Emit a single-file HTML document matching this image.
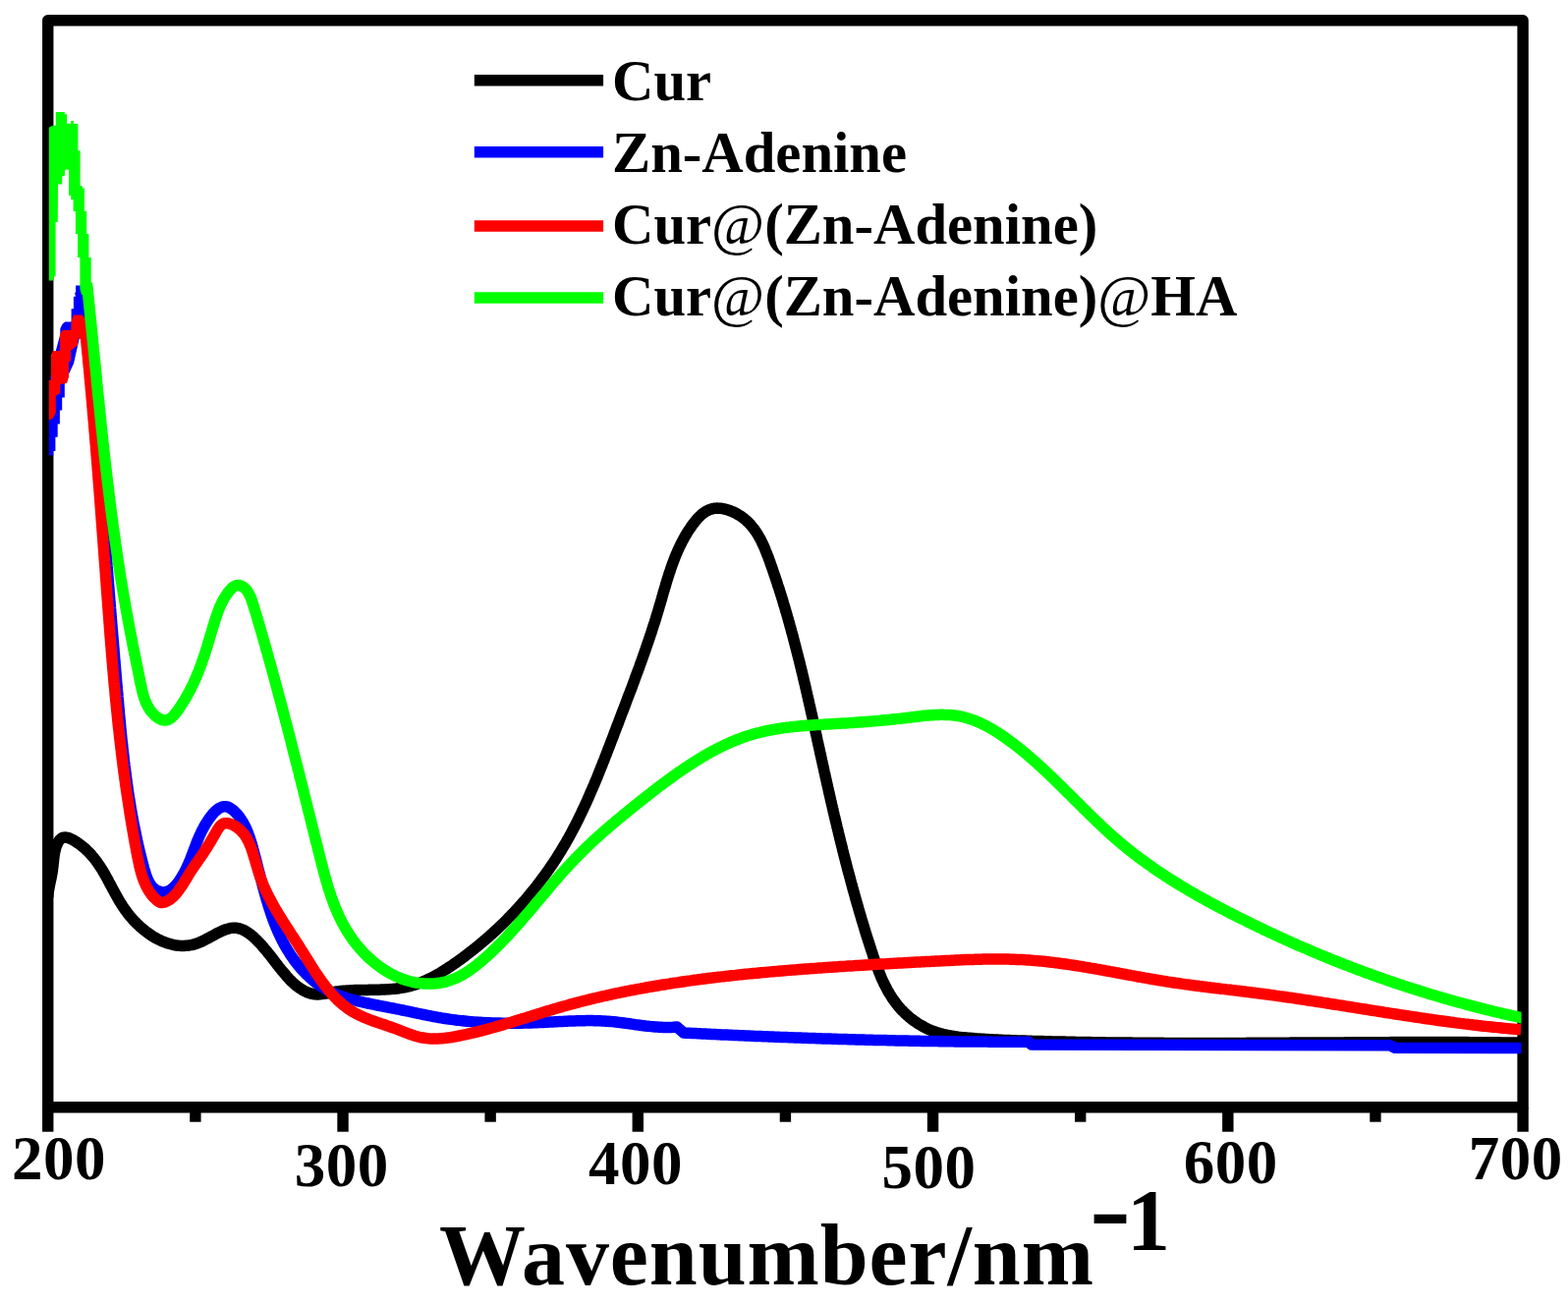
<!DOCTYPE html>
<html><head><meta charset="utf-8"><title>UV-Vis spectra</title>
<style>html,body{margin:0;padding:0;background:#fff;}body{width:1596px;height:1329px;overflow:hidden;}svg{display:block;}</style>
</head><body>
<svg width="1596" height="1329" viewBox="0 0 1596 1329">
<rect x="0" y="0" width="1596" height="1329" fill="#fff"/>
<rect x="48.75" y="20.75" width="1501.35" height="1106.05" fill="none" stroke="#000" stroke-width="11.4" stroke-linejoin="round"/>
<line x1="48.75" y1="1126.80" x2="48.75" y2="1151.7" stroke="#000" stroke-width="11.4"/>
<line x1="198.88" y1="1126.80" x2="198.88" y2="1141.7" stroke="#000" stroke-width="11.4"/>
<line x1="349.02" y1="1126.80" x2="349.02" y2="1151.7" stroke="#000" stroke-width="11.4"/>
<line x1="499.15" y1="1126.80" x2="499.15" y2="1141.7" stroke="#000" stroke-width="11.4"/>
<line x1="649.29" y1="1126.80" x2="649.29" y2="1151.7" stroke="#000" stroke-width="11.4"/>
<line x1="799.42" y1="1126.80" x2="799.42" y2="1141.7" stroke="#000" stroke-width="11.4"/>
<line x1="949.56" y1="1126.80" x2="949.56" y2="1151.7" stroke="#000" stroke-width="11.4"/>
<line x1="1099.69" y1="1126.80" x2="1099.69" y2="1141.7" stroke="#000" stroke-width="11.4"/>
<line x1="1249.83" y1="1126.80" x2="1249.83" y2="1151.7" stroke="#000" stroke-width="11.4"/>
<line x1="1399.96" y1="1126.80" x2="1399.96" y2="1141.7" stroke="#000" stroke-width="11.4"/>
<line x1="1550.10" y1="1126.80" x2="1550.10" y2="1151.7" stroke="#000" stroke-width="11.4"/>
<defs><clipPath id="pc"><rect x="49.8" y="0" width="1498.7" height="1329"/></clipPath></defs>
<g clip-path="url(#pc)">
<path d="M48.7,913.0 L48.9,910.8 L49.1,908.8 L49.4,906.7 L49.7,904.8 L50.1,902.8 L50.4,901.0 L50.8,899.1 L51.2,897.2 L51.6,895.4 L52.0,893.5 L52.4,891.6 L52.7,889.7 L53.1,887.8 L53.4,885.8 L53.6,883.8 L53.9,881.7 L54.1,879.6 L54.3,877.4 L54.6,875.3 L54.8,873.1 L55.1,871.0 L55.4,868.8 L55.8,866.7 L56.3,864.7 L56.8,862.7 L57.5,860.7 L58.2,858.9 L59.1,857.1 L60.0,855.6 L61.1,854.3 L62.3,853.3 L63.7,852.5 L65.2,852.2 L66.8,852.1 L68.5,852.4 L70.3,852.9 L72.2,853.7 L74.1,854.6 L76.0,855.7 L77.8,856.9 L79.6,858.1 L81.4,859.4 L83.1,860.7 L84.7,862.0 L86.3,863.3 L87.8,864.7 L89.2,866.1 L90.7,867.5 L92.0,869.0 L93.4,870.5 L94.6,872.0 L95.9,873.5 L97.1,875.0 L98.3,876.6 L99.4,878.2 L100.5,879.8 L101.6,881.4 L102.6,883.0 L103.7,884.7 L104.7,886.4 L105.7,888.0 L106.7,889.7 L107.6,891.4 L108.6,893.1 L109.5,894.8 L110.4,896.5 L111.3,898.3 L112.3,900.0 L113.2,901.7 L114.1,903.5 L115.0,905.2 L116.0,906.9 L116.9,908.7 L117.9,910.4 L118.8,912.1 L119.8,913.8 L120.8,915.6 L121.8,917.3 L122.9,919.0 L123.9,920.7 L125.0,922.4 L126.1,924.0 L127.3,925.7 L128.5,927.3 L129.7,929.0 L130.9,930.6 L132.2,932.2 L133.6,933.8 L134.9,935.3 L136.3,936.9 L137.8,938.4 L139.3,939.9 L140.8,941.3 L142.3,942.8 L143.9,944.1 L145.5,945.5 L147.1,946.8 L148.7,948.1 L150.4,949.3 L152.1,950.5 L153.8,951.7 L155.5,952.8 L157.3,953.9 L159.1,954.9 L160.9,955.8 L162.7,956.7 L164.5,957.6 L166.4,958.3 L168.2,959.1 L170.1,959.7 L172.0,960.3 L173.9,960.8 L175.8,961.3 L177.7,961.7 L179.6,962.0 L181.5,962.2 L183.4,962.4 L185.3,962.4 L187.3,962.4 L189.2,962.3 L191.1,962.2 L193.0,961.9 L195.0,961.6 L196.9,961.1 L198.8,960.6 L200.7,960.0 L202.6,959.2 L204.5,958.4 L206.4,957.6 L208.2,956.7 L210.1,955.7 L212.0,954.7 L213.8,953.7 L215.7,952.7 L217.5,951.7 L219.3,950.7 L221.2,949.7 L223.0,948.8 L224.8,947.9 L226.6,947.1 L228.4,946.4 L230.2,945.7 L232.0,945.2 L233.8,944.7 L235.5,944.4 L237.3,944.2 L239.0,944.2 L240.8,944.3 L242.5,944.6 L244.3,945.1 L246.0,945.7 L247.7,946.4 L249.4,947.3 L251.1,948.3 L252.8,949.4 L254.4,950.5 L256.0,951.8 L257.6,953.2 L259.2,954.6 L260.8,956.1 L262.3,957.6 L263.8,959.2 L265.2,960.7 L266.7,962.3 L268.1,964.0 L269.4,965.6 L270.8,967.1 L272.1,968.7 L273.3,970.3 L274.6,971.8 L275.8,973.4 L277.0,974.9 L278.1,976.4 L279.3,977.9 L280.5,979.5 L281.7,981.0 L282.8,982.5 L284.0,984.0 L285.2,985.5 L286.4,987.0 L287.7,988.6 L289.0,990.1 L290.3,991.6 L291.6,993.2 L292.9,994.7 L294.3,996.2 L295.7,997.6 L297.2,999.1 L298.7,1000.5 L300.2,1001.8 L301.8,1003.2 L303.5,1004.4 L305.1,1005.6 L306.9,1006.7 L308.6,1007.8 L310.4,1008.8 L312.3,1009.6 L314.1,1010.3 L316.0,1010.9 L317.9,1011.4 L319.8,1011.7 L321.7,1011.9 L323.7,1011.9 L325.6,1011.8 L327.5,1011.6 L329.5,1011.4 L331.4,1011.1 L333.4,1010.7 L335.4,1010.4 L337.4,1010.0 L339.3,1009.6 L341.3,1009.3 L343.3,1009.0 L345.3,1008.8 L347.3,1008.5 L349.4,1008.3 L351.4,1008.2 L353.4,1008.0 L355.4,1007.9 L357.5,1007.8 L359.5,1007.7 L361.5,1007.6 L363.6,1007.6 L365.6,1007.5 L367.6,1007.5 L369.7,1007.4 L371.7,1007.4 L373.7,1007.4 L375.8,1007.3 L377.8,1007.3 L379.8,1007.3 L381.9,1007.3 L383.9,1007.2 L385.9,1007.2 L387.9,1007.1 L389.9,1007.0 L391.9,1006.9 L394.0,1006.8 L395.9,1006.7 L397.9,1006.6 L399.9,1006.4 L401.9,1006.2 L403.9,1006.0 L405.8,1005.7 L407.8,1005.4 L409.7,1005.1 L411.6,1004.8 L413.5,1004.4 L415.5,1003.9 L417.4,1003.5 L419.2,1002.9 L421.1,1002.4 L423.0,1001.8 L424.8,1001.2 L426.7,1000.5 L428.5,999.8 L430.3,999.1 L432.1,998.3 L433.9,997.5 L435.7,996.6 L437.5,995.8 L439.3,994.9 L441.0,994.0 L442.8,993.0 L444.5,992.1 L446.3,991.1 L448.0,990.1 L449.7,989.0 L451.4,988.0 L453.1,986.9 L454.8,985.8 L456.5,984.7 L458.2,983.6 L459.9,982.5 L461.5,981.3 L463.2,980.2 L464.9,979.0 L466.5,977.8 L468.1,976.7 L469.8,975.5 L471.4,974.3 L473.0,973.1 L474.6,971.9 L476.2,970.6 L477.8,969.4 L479.4,968.2 L481.0,966.9 L482.6,965.7 L484.2,964.4 L485.7,963.2 L487.3,961.9 L488.8,960.6 L490.4,959.3 L491.9,958.0 L493.4,956.7 L495.0,955.4 L496.5,954.1 L498.0,952.8 L499.5,951.4 L501.0,950.1 L502.5,948.7 L504.0,947.4 L505.4,946.0 L506.9,944.6 L508.3,943.3 L509.8,941.9 L511.2,940.5 L512.7,939.1 L514.1,937.7 L515.5,936.3 L516.9,934.8 L518.3,933.4 L519.7,932.0 L521.1,930.5 L522.5,929.1 L523.9,927.6 L525.2,926.2 L526.6,924.7 L527.9,923.2 L529.3,921.7 L530.6,920.2 L531.9,918.7 L533.3,917.2 L534.6,915.7 L535.9,914.2 L537.2,912.7 L538.4,911.2 L539.7,909.6 L541.0,908.1 L542.3,906.5 L543.5,905.0 L544.7,903.4 L546.0,901.9 L547.2,900.3 L548.4,898.7 L549.6,897.1 L550.8,895.5 L552.0,893.9 L553.2,892.3 L554.4,890.7 L555.6,889.1 L556.7,887.5 L557.9,885.8 L559.0,884.2 L560.1,882.6 L561.3,880.9 L562.4,879.3 L563.5,877.6 L564.6,875.9 L565.7,874.3 L566.8,872.6 L567.8,870.9 L568.9,869.2 L569.9,867.5 L571.0,865.8 L572.0,864.1 L573.0,862.4 L574.1,860.7 L575.1,859.0 L576.1,857.3 L577.0,855.5 L578.0,853.8 L579.0,852.1 L580.0,850.3 L580.9,848.6 L581.9,846.8 L582.8,845.0 L583.7,843.3 L584.7,841.5 L585.6,839.7 L586.5,838.0 L587.4,836.2 L588.3,834.4 L589.2,832.6 L590.0,830.8 L590.9,829.0 L591.8,827.2 L592.6,825.4 L593.5,823.6 L594.3,821.8 L595.2,820.0 L596.0,818.2 L596.9,816.3 L597.7,814.5 L598.5,812.7 L599.3,810.9 L600.1,809.0 L600.9,807.2 L601.7,805.3 L602.5,803.5 L603.3,801.7 L604.1,799.8 L604.9,798.0 L605.6,796.1 L606.4,794.3 L607.2,792.4 L608.0,790.6 L608.7,788.7 L609.5,786.8 L610.2,785.0 L611.0,783.1 L611.7,781.2 L612.5,779.4 L613.2,777.5 L613.9,775.6 L614.7,773.8 L615.4,771.9 L616.1,770.0 L616.9,768.2 L617.6,766.3 L618.3,764.4 L619.0,762.5 L619.8,760.7 L620.5,758.8 L621.2,756.9 L621.9,755.0 L622.6,753.2 L623.4,751.3 L624.1,749.4 L624.8,747.5 L625.5,745.6 L626.2,743.8 L626.9,741.9 L627.6,740.0 L628.4,738.1 L629.1,736.3 L629.8,734.4 L630.5,732.5 L631.2,730.7 L631.9,728.8 L632.6,726.9 L633.3,725.0 L634.1,723.2 L634.8,721.3 L635.5,719.4 L636.2,717.6 L636.9,715.7 L637.6,713.8 L638.3,712.0 L639.0,710.1 L639.7,708.2 L640.4,706.4 L641.2,704.5 L641.9,702.6 L642.6,700.8 L643.3,698.9 L644.0,697.0 L644.7,695.2 L645.4,693.3 L646.0,691.4 L646.7,689.5 L647.4,687.7 L648.1,685.8 L648.8,683.9 L649.5,682.1 L650.2,680.2 L650.9,678.3 L651.5,676.4 L652.2,674.6 L652.9,672.7 L653.6,670.8 L654.2,668.9 L654.9,667.0 L655.6,665.2 L656.2,663.3 L656.9,661.4 L657.5,659.5 L658.2,657.6 L658.8,655.7 L659.5,653.9 L660.1,652.0 L660.8,650.1 L661.4,648.2 L662.0,646.3 L662.7,644.4 L663.3,642.5 L663.9,640.6 L664.5,638.7 L665.1,636.8 L665.7,634.9 L666.4,633.0 L667.0,631.1 L667.6,629.2 L668.1,627.3 L668.7,625.4 L669.3,623.4 L669.9,621.5 L670.5,619.6 L671.0,617.7 L671.6,615.7 L672.2,613.8 L672.7,611.9 L673.3,610.0 L673.8,608.0 L674.4,606.1 L674.9,604.2 L675.5,602.2 L676.1,600.3 L676.6,598.4 L677.2,596.5 L677.8,594.5 L678.3,592.6 L678.9,590.7 L679.5,588.8 L680.1,586.9 L680.7,585.0 L681.3,583.1 L682.0,581.2 L682.6,579.3 L683.2,577.4 L683.9,575.5 L684.6,573.6 L685.3,571.7 L686.0,569.9 L686.7,568.0 L687.4,566.2 L688.2,564.3 L689.0,562.5 L689.8,560.6 L690.6,558.8 L691.4,557.0 L692.3,555.2 L693.2,553.4 L694.1,551.6 L695.0,549.9 L696.0,548.1 L696.9,546.4 L697.9,544.6 L699.0,542.9 L700.0,541.2 L701.1,539.5 L702.3,537.8 L703.4,536.1 L704.6,534.4 L705.8,532.8 L707.1,531.2 L708.4,529.6 L709.7,528.1 L711.0,526.6 L712.5,525.2 L713.9,523.8 L715.4,522.6 L717.0,521.4 L718.6,520.4 L720.3,519.5 L722.0,518.7 L723.8,518.1 L725.6,517.6 L727.5,517.3 L729.5,517.1 L731.5,517.2 L733.6,517.3 L735.7,517.6 L737.8,518.1 L739.9,518.6 L741.9,519.3 L743.9,520.0 L745.9,520.8 L747.8,521.7 L749.7,522.7 L751.4,523.7 L753.2,524.7 L754.8,525.8 L756.4,527.0 L757.9,528.2 L759.4,529.5 L760.8,530.8 L762.2,532.1 L763.5,533.5 L764.8,535.0 L766.0,536.5 L767.2,538.0 L768.3,539.5 L769.4,541.1 L770.5,542.7 L771.5,544.4 L772.5,546.1 L773.5,547.8 L774.4,549.5 L775.3,551.3 L776.1,553.1 L777.0,554.9 L777.8,556.7 L778.6,558.6 L779.3,560.4 L780.1,562.3 L780.8,564.2 L781.6,566.1 L782.3,568.0 L783.0,569.9 L783.7,571.8 L784.3,573.7 L785.0,575.6 L785.7,577.5 L786.4,579.4 L787.0,581.3 L787.7,583.3 L788.3,585.2 L789.0,587.1 L789.6,589.0 L790.3,590.9 L790.9,592.8 L791.5,594.8 L792.1,596.7 L792.8,598.6 L793.4,600.5 L794.0,602.4 L794.6,604.4 L795.2,606.3 L795.8,608.2 L796.4,610.1 L797.0,612.1 L797.5,614.0 L798.1,615.9 L798.7,617.8 L799.3,619.8 L799.8,621.7 L800.4,623.6 L801.0,625.6 L801.5,627.5 L802.1,629.4 L802.6,631.4 L803.2,633.3 L803.7,635.2 L804.2,637.2 L804.8,639.1 L805.3,641.0 L805.8,643.0 L806.4,644.9 L806.9,646.8 L807.4,648.8 L807.9,650.7 L808.4,652.6 L808.9,654.6 L809.4,656.5 L809.9,658.5 L810.4,660.4 L810.9,662.3 L811.4,664.3 L811.9,666.2 L812.4,668.2 L812.9,670.1 L813.4,672.0 L813.9,674.0 L814.3,675.9 L814.8,677.9 L815.3,679.8 L815.8,681.8 L816.2,683.7 L816.7,685.7 L817.2,687.6 L817.6,689.5 L818.1,691.5 L818.5,693.4 L819.0,695.4 L819.5,697.3 L819.9,699.3 L820.4,701.2 L820.8,703.2 L821.3,705.1 L821.7,707.1 L822.2,709.0 L822.6,711.0 L823.0,712.9 L823.5,714.9 L823.9,716.8 L824.4,718.7 L824.8,720.7 L825.2,722.6 L825.7,724.6 L826.1,726.5 L826.6,728.5 L827.0,730.4 L827.4,732.4 L827.8,734.3 L828.3,736.3 L828.7,738.2 L829.1,740.2 L829.6,742.1 L830.0,744.1 L830.4,746.0 L830.9,748.0 L831.3,749.9 L831.7,751.9 L832.1,753.9 L832.6,755.8 L833.0,757.8 L833.4,759.7 L833.9,761.7 L834.3,763.6 L834.7,765.6 L835.1,767.5 L835.6,769.5 L836.0,771.4 L836.4,773.4 L836.9,775.3 L837.3,777.3 L837.7,779.2 L838.2,781.2 L838.6,783.1 L839.0,785.1 L839.5,787.0 L839.9,789.0 L840.3,790.9 L840.8,792.9 L841.2,794.8 L841.6,796.8 L842.1,798.7 L842.5,800.7 L843.0,802.6 L843.4,804.6 L843.8,806.5 L844.3,808.5 L844.7,810.4 L845.2,812.4 L845.6,814.3 L846.1,816.3 L846.5,818.2 L847.0,820.1 L847.4,822.1 L847.9,824.0 L848.3,826.0 L848.8,827.9 L849.2,829.9 L849.7,831.8 L850.2,833.8 L850.6,835.7 L851.1,837.7 L851.6,839.6 L852.0,841.6 L852.5,843.5 L853.0,845.4 L853.4,847.4 L853.9,849.3 L854.4,851.3 L854.8,853.2 L855.3,855.2 L855.8,857.1 L856.3,859.0 L856.8,861.0 L857.3,862.9 L857.7,864.9 L858.2,866.8 L858.7,868.8 L859.2,870.7 L859.7,872.6 L860.2,874.6 L860.7,876.5 L861.2,878.5 L861.7,880.4 L862.2,882.3 L862.7,884.3 L863.2,886.2 L863.7,888.1 L864.3,890.1 L864.8,892.0 L865.3,893.9 L865.8,895.9 L866.3,897.8 L866.9,899.8 L867.4,901.7 L867.9,903.6 L868.4,905.6 L869.0,907.5 L869.5,909.4 L870.1,911.4 L870.6,913.3 L871.1,915.2 L871.7,917.1 L872.2,919.1 L872.8,921.0 L873.4,922.9 L873.9,924.9 L874.5,926.8 L875.0,928.7 L875.6,930.6 L876.2,932.6 L876.7,934.5 L877.3,936.4 L877.9,938.3 L878.5,940.3 L879.1,942.2 L879.6,944.1 L880.2,946.0 L880.8,948.0 L881.4,949.9 L882.0,951.8 L882.6,953.7 L883.2,955.6 L883.8,957.6 L884.5,959.5 L885.1,961.4 L885.7,963.3 L886.3,965.2 L886.9,967.1 L887.6,969.1 L888.2,971.0 L888.8,972.9 L889.5,974.8 L890.1,976.7 L890.8,978.6 L891.5,980.5 L892.2,982.4 L892.9,984.2 L893.6,986.1 L894.3,988.0 L895.0,989.8 L895.8,991.7 L896.5,993.5 L897.3,995.4 L898.1,997.2 L899.0,999.0 L899.8,1000.8 L900.7,1002.5 L901.6,1004.3 L902.5,1006.0 L903.4,1007.8 L904.4,1009.5 L905.4,1011.2 L906.4,1012.8 L907.5,1014.5 L908.5,1016.1 L909.7,1017.7 L910.8,1019.3 L912.0,1020.9 L913.2,1022.5 L914.4,1024.0 L915.7,1025.5 L917.0,1027.0 L918.4,1028.4 L919.8,1029.8 L921.2,1031.2 L922.7,1032.6 L924.2,1033.9 L925.7,1035.3 L927.3,1036.5 L928.9,1037.8 L930.6,1039.0 L932.2,1040.1 L933.9,1041.3 L935.7,1042.4 L937.4,1043.4 L939.2,1044.4 L941.0,1045.4 L942.8,1046.3 L944.6,1047.2 L946.5,1048.0 L948.3,1048.8 L950.2,1049.5 L952.1,1050.1 L954.0,1050.8 L955.9,1051.3 L957.8,1051.9 L959.7,1052.4 L961.7,1052.8 L963.6,1053.3 L965.6,1053.6 L967.5,1054.0 L969.5,1054.3 L971.5,1054.6 L973.5,1054.9 L975.5,1055.2 L977.4,1055.4 L979.4,1055.6 L981.4,1055.8 L983.4,1056.0 L985.4,1056.2 L987.4,1056.3 L989.4,1056.5 L991.4,1056.6 L993.4,1056.8 L995.4,1056.9 L997.4,1057.1 L999.4,1057.2 L1001.4,1057.3 L1003.4,1057.4 L1005.4,1057.6 L1007.4,1057.7 L1009.4,1057.8 L1011.4,1057.9 L1013.4,1058.0 L1015.4,1058.1 L1017.4,1058.2 L1019.4,1058.3 L1021.4,1058.4 L1023.4,1058.4 L1025.4,1058.5 L1027.4,1058.6 L1029.4,1058.7 L1031.4,1058.7 L1033.4,1058.8 L1035.4,1058.9 L1037.4,1058.9 L1039.4,1059.0 L1041.4,1059.1 L1043.4,1059.1 L1045.4,1059.2 L1047.4,1059.2 L1049.4,1059.3 L1051.4,1059.4 L1053.4,1059.4 L1055.4,1059.5 L1057.4,1059.5 L1059.4,1059.6 L1061.4,1059.6 L1063.4,1059.7 L1065.4,1059.7 L1067.4,1059.8 L1069.4,1059.8 L1071.4,1059.9 L1073.4,1059.9 L1075.4,1060.0 L1077.4,1060.0 L1079.4,1060.1 L1081.4,1060.1 L1083.5,1060.1 L1085.5,1060.2 L1087.5,1060.2 L1089.5,1060.3 L1091.5,1060.3 L1093.5,1060.3 L1095.5,1060.4 L1097.5,1060.4 L1099.5,1060.5 L1101.5,1060.5 L1103.5,1060.5 L1105.5,1060.6 L1107.5,1060.6 L1109.5,1060.6 L1111.5,1060.7 L1113.5,1060.7 L1115.5,1060.7 L1117.5,1060.7 L1119.5,1060.8 L1121.5,1060.8 L1123.5,1060.8 L1125.5,1060.9 L1127.5,1060.9 L1129.5,1060.9 L1131.5,1060.9 L1133.5,1061.0 L1135.5,1061.0 L1137.5,1061.0 L1139.5,1061.0 L1141.5,1061.0 L1143.5,1061.1 L1145.5,1061.1 L1147.5,1061.1 L1149.5,1061.1 L1151.5,1061.1 L1153.5,1061.2 L1155.5,1061.2 L1157.5,1061.2 L1159.5,1061.2 L1161.5,1061.2 L1163.5,1061.2 L1165.5,1061.2 L1167.5,1061.3 L1169.5,1061.3 L1171.5,1061.3 L1173.5,1061.3 L1175.5,1061.3 L1177.5,1061.3 L1179.5,1061.3 L1181.5,1061.3 L1183.5,1061.3 L1185.5,1061.4 L1187.5,1061.4 L1189.5,1061.4 L1191.5,1061.4 L1193.5,1061.4 L1195.5,1061.4 L1197.6,1061.4 L1199.6,1061.4 L1201.6,1061.4 L1203.6,1061.4 L1205.6,1061.4 L1207.6,1061.4 L1209.6,1061.4 L1211.6,1061.4 L1213.6,1061.4 L1215.6,1061.4 L1217.6,1061.4 L1219.6,1061.4 L1221.6,1061.4 L1223.6,1061.4 L1225.6,1061.4 L1227.6,1061.4 L1229.6,1061.4 L1231.6,1061.4 L1233.6,1061.4 L1235.6,1061.4 L1237.6,1061.4 L1239.6,1061.4 L1241.6,1061.4 L1243.6,1061.4 L1245.6,1061.4 L1247.6,1061.4 L1249.6,1061.4 L1251.6,1061.4 L1253.6,1061.4 L1255.6,1061.4 L1257.6,1061.4 L1259.6,1061.4 L1261.6,1061.4 L1263.6,1061.4 L1265.6,1061.4 L1267.6,1061.4 L1269.6,1061.3 L1271.6,1061.3 L1273.7,1061.3 L1275.7,1061.3 L1277.7,1061.3 L1279.7,1061.3 L1281.7,1061.3 L1283.7,1061.3 L1285.7,1061.3 L1287.7,1061.3 L1289.7,1061.3 L1291.7,1061.3 L1293.7,1061.2 L1295.7,1061.2 L1297.7,1061.2 L1299.7,1061.2 L1301.7,1061.2 L1303.7,1061.2 L1305.7,1061.2 L1307.7,1061.2 L1309.7,1061.2 L1311.7,1061.2 L1313.7,1061.1 L1315.7,1061.1 L1317.7,1061.1 L1319.7,1061.1 L1321.7,1061.1 L1323.7,1061.1 L1325.7,1061.1 L1327.7,1061.1 L1329.7,1061.1 L1331.7,1061.1 L1333.7,1061.0 L1335.7,1061.0 L1337.7,1061.0 L1339.7,1061.0 L1341.7,1061.0 L1343.8,1061.0 L1345.8,1061.0 L1347.8,1061.0 L1349.8,1061.0 L1351.8,1060.9 L1353.8,1060.9 L1355.8,1060.9 L1357.8,1060.9 L1359.8,1060.9 L1361.8,1060.9 L1363.8,1060.9 L1365.8,1060.9 L1367.8,1060.9 L1369.8,1060.8 L1371.8,1060.8 L1373.8,1060.8 L1375.8,1060.8 L1377.8,1060.8 L1379.8,1060.8 L1381.8,1060.8 L1383.8,1060.8 L1385.8,1060.8 L1387.8,1060.8 L1389.8,1060.7 L1391.8,1060.7 L1393.8,1060.7 L1395.8,1060.7 L1397.8,1060.7 L1399.8,1060.7 L1401.8,1060.7 L1403.8,1060.7 L1405.8,1060.7 L1407.8,1060.7 L1409.8,1060.7 L1411.8,1060.7 L1413.9,1060.7 L1415.9,1060.6 L1417.9,1060.6 L1419.9,1060.6 L1421.9,1060.6 L1423.9,1060.6 L1425.9,1060.6 L1427.9,1060.6 L1429.9,1060.6 L1431.9,1060.6 L1433.9,1060.6 L1435.9,1060.6 L1437.9,1060.6 L1439.9,1060.6 L1441.9,1060.6 L1443.9,1060.6 L1445.9,1060.6 L1447.9,1060.6 L1449.9,1060.6 L1451.9,1060.6 L1453.9,1060.6 L1455.9,1060.6 L1457.9,1060.6 L1459.9,1060.6 L1461.9,1060.6 L1463.9,1060.6 L1465.9,1060.6 L1467.9,1060.6 L1469.9,1060.6 L1471.9,1060.6 L1473.9,1060.6 L1475.9,1060.6 L1477.9,1060.6 L1479.9,1060.6 L1481.9,1060.6 L1483.9,1060.6 L1485.9,1060.6 L1487.9,1060.6 L1489.9,1060.6 L1491.9,1060.6 L1493.9,1060.6 L1495.9,1060.7 L1498.0,1060.7 L1500.0,1060.7 L1502.0,1060.7 L1504.0,1060.7 L1506.0,1060.7 L1508.0,1060.7 L1510.0,1060.7 L1512.0,1060.7 L1514.0,1060.8 L1516.0,1060.8 L1518.0,1060.8 L1520.0,1060.8 L1522.0,1060.8 L1524.0,1060.8 L1526.0,1060.8 L1528.0,1060.9 L1530.0,1060.9 L1532.0,1060.9 L1534.0,1060.9 L1536.0,1060.9 L1538.0,1061.0 L1540.0,1061.0 L1542.0,1061.0 L1544.0,1061.0 L1546.0,1061.0 L1548.0,1061.1 L1550.0,1061.1" fill="none" stroke="#000000" stroke-width="11.5" stroke-linejoin="round" stroke-linecap="butt"/>
<polygon points="48.0,463.5 54.2,463.5 54.2,459.0 56.4,459.0 56.4,444.7 58.7,444.7 58.7,431.5 60.9,431.5 60.9,417.6 63.2,417.6 63.2,404.5 65.8,404.5 65.8,389.8 75.0,370.0 84.0,330.0 85.8,318.4 85.8,304.8 83.9,304.8 83.9,293.2 81.6,290.5 77.1,290.5 77.1,301.8 74.9,301.8 74.9,314.2 72.6,314.2 72.6,327.4 66.2,327.4 63.6,329.7 61.3,334.2 61.3,340.2 56.0,360.0 48.0,400.0" fill="#0000ff"/>
<path d="M81.7,296.5 L82.1,298.5 L82.5,300.4 L82.9,302.4 L83.2,304.3 L83.6,306.3 L84.0,308.2 L84.3,310.2 L84.7,312.1 L85.0,314.1 L85.3,316.1 L85.7,318.0 L86.0,320.0 L86.3,321.9 L86.6,323.9 L87.0,325.9 L87.3,327.8 L87.6,329.8 L87.9,331.8 L88.2,333.8 L88.4,335.7 L88.7,337.7 L89.0,339.7 L89.3,341.7 L89.5,343.6 L89.8,345.6 L90.1,347.6 L90.3,349.6 L90.6,351.6 L90.8,353.5 L91.1,355.5 L91.3,357.5 L91.6,359.5 L91.8,361.5 L92.0,363.5 L92.3,365.4 L92.5,367.4 L92.7,369.4 L92.9,371.4 L93.1,373.4 L93.3,375.4 L93.6,377.4 L93.8,379.4 L94.0,381.4 L94.2,383.4 L94.4,385.4 L94.6,387.4 L94.7,389.3 L94.9,391.3 L95.1,393.3 L95.3,395.3 L95.5,397.3 L95.7,399.3 L95.8,401.3 L96.0,403.3 L96.2,405.3 L96.4,407.3 L96.5,409.3 L96.7,411.3 L96.9,413.3 L97.0,415.3 L97.2,417.3 L97.4,419.3 L97.5,421.3 L97.7,423.3 L97.8,425.3 L98.0,427.3 L98.1,429.3 L98.3,431.3 L98.4,433.3 L98.6,435.3 L98.7,437.4 L98.9,439.4 L99.0,441.4 L99.2,443.4 L99.3,445.4 L99.5,447.4 L99.6,449.4 L99.8,451.4 L99.9,453.4 L100.1,455.4 L100.2,457.4 L100.4,459.4 L100.5,461.4 L100.6,463.4 L100.8,465.4 L100.9,467.4 L101.1,469.4 L101.2,471.4 L101.4,473.4 L101.5,475.4 L101.7,477.4 L101.8,479.4 L102.0,481.4 L102.1,483.4 L102.2,485.4 L102.4,487.4 L102.5,489.4 L102.7,491.4 L102.8,493.4 L103.0,495.4 L103.1,497.4 L103.3,499.4 L103.4,501.4 L103.6,503.4 L103.7,505.4 L103.9,507.4 L104.0,509.4 L104.2,511.4 L104.3,513.4 L104.5,515.4 L104.6,517.4 L104.8,519.4 L104.9,521.4 L105.1,523.3 L105.2,525.3 L105.4,527.3 L105.5,529.3 L105.7,531.3 L105.8,533.3 L106.0,535.3 L106.1,537.3 L106.3,539.3 L106.4,541.3 L106.6,543.3 L106.7,545.3 L106.9,547.3 L107.0,549.3 L107.2,551.3 L107.3,553.3 L107.5,555.3 L107.6,557.3 L107.8,559.3 L108.0,561.3 L108.1,563.3 L108.3,565.3 L108.4,567.3 L108.6,569.3 L108.7,571.2 L108.9,573.2 L109.0,575.2 L109.2,577.2 L109.3,579.2 L109.5,581.2 L109.7,583.2 L109.8,585.2 L110.0,587.2 L110.1,589.2 L110.3,591.2 L110.4,593.2 L110.6,595.2 L110.8,597.2 L110.9,599.2 L111.1,601.2 L111.2,603.2 L111.4,605.2 L111.6,607.2 L111.7,609.2 L111.9,611.2 L112.0,613.2 L112.2,615.1 L112.4,617.1 L112.5,619.1 L112.7,621.1 L112.8,623.1 L113.0,625.1 L113.2,627.1 L113.3,629.1 L113.5,631.1 L113.6,633.1 L113.8,635.1 L114.0,637.1 L114.1,639.1 L114.3,641.1 L114.5,643.1 L114.6,645.1 L114.8,647.1 L115.0,649.1 L115.1,651.1 L115.3,653.1 L115.5,655.1 L115.6,657.1 L115.8,659.1 L116.0,661.1 L116.1,663.1 L116.3,665.1 L116.5,667.1 L116.6,669.1 L116.8,671.1 L117.0,673.1 L117.1,675.1 L117.3,677.1 L117.5,679.1 L117.6,681.1 L117.8,683.1 L118.0,685.1 L118.1,687.1 L118.3,689.1 L118.5,691.1 L118.6,693.1 L118.8,695.1 L119.0,697.1 L119.2,699.1 L119.3,701.1 L119.5,703.1 L119.7,705.1 L119.9,707.1 L120.0,709.1 L120.2,711.1 L120.4,713.1 L120.6,715.2 L120.7,717.2 L120.9,719.2 L121.1,721.2 L121.3,723.2 L121.4,725.2 L121.6,727.2 L121.8,729.2 L122.0,731.2 L122.2,733.2 L122.4,735.2 L122.6,737.2 L122.7,739.2 L122.9,741.2 L123.1,743.2 L123.3,745.2 L123.5,747.2 L123.7,749.2 L123.9,751.2 L124.1,753.2 L124.3,755.2 L124.6,757.2 L124.8,759.2 L125.0,761.2 L125.2,763.2 L125.4,765.2 L125.6,767.1 L125.9,769.1 L126.1,771.1 L126.3,773.1 L126.5,775.1 L126.8,777.1 L127.0,779.1 L127.3,781.0 L127.5,783.0 L127.8,785.0 L128.0,787.0 L128.3,789.0 L128.5,790.9 L128.8,792.9 L129.1,794.9 L129.3,796.8 L129.6,798.8 L129.9,800.8 L130.2,802.7 L130.4,804.7 L130.7,806.7 L131.0,808.6 L131.3,810.6 L131.6,812.5 L131.9,814.5 L132.3,816.4 L132.6,818.4 L132.9,820.3 L133.2,822.3 L133.5,824.2 L133.9,826.2 L134.2,828.1 L134.6,830.0 L134.9,832.0 L135.3,833.9 L135.6,835.8 L136.0,837.8 L136.4,839.7 L136.8,841.7 L137.2,843.6 L137.6,845.5 L138.0,847.5 L138.4,849.5 L138.8,851.4 L139.2,853.4 L139.6,855.3 L140.1,857.3 L140.5,859.3 L141.0,861.3 L141.5,863.3 L141.9,865.3 L142.4,867.3 L142.9,869.4 L143.4,871.4 L143.9,873.4 L144.4,875.5 L145.0,877.6 L145.5,879.7 L146.1,881.8 L146.6,883.9 L147.2,886.0 L147.9,888.0 L148.5,890.1 L149.2,892.1 L150.0,894.0 L150.8,895.9 L151.7,897.7 L152.7,899.3 L153.7,900.9 L154.9,902.3 L156.1,903.6 L157.5,904.8 L159.0,905.8 L160.5,906.6 L162.2,907.2 L163.9,907.6 L165.6,907.9 L167.3,907.8 L169.0,907.6 L170.7,907.1 L172.3,906.3 L173.9,905.4 L175.5,904.2 L176.9,902.9 L178.4,901.5 L179.8,899.9 L181.1,898.2 L182.4,896.4 L183.6,894.5 L184.8,892.6 L185.9,890.7 L187.0,888.8 L188.0,887.0 L189.0,885.1 L189.9,883.2 L190.8,881.3 L191.6,879.5 L192.4,877.6 L193.2,875.8 L193.9,874.0 L194.6,872.2 L195.3,870.3 L196.0,868.5 L196.7,866.7 L197.4,864.9 L198.1,863.1 L198.7,861.3 L199.4,859.5 L200.1,857.7 L200.8,855.9 L201.6,854.1 L202.3,852.3 L203.1,850.5 L204.0,848.7 L204.8,846.9 L205.7,845.0 L206.7,843.2 L207.7,841.4 L208.7,839.5 L209.8,837.7 L211.0,835.9 L212.2,834.0 L213.5,832.2 L214.9,830.4 L216.3,828.7 L217.7,827.0 L219.2,825.5 L220.8,824.2 L222.3,823.0 L223.9,822.1 L225.5,821.3 L227.1,820.9 L228.7,820.7 L230.4,820.8 L232.0,821.2 L233.6,822.0 L235.2,822.9 L236.7,824.1 L238.2,825.3 L239.6,826.7 L241.0,828.1 L242.3,829.6 L243.5,831.1 L244.6,832.7 L245.7,834.3 L246.8,836.0 L247.8,837.7 L248.7,839.4 L249.6,841.1 L250.4,842.9 L251.2,844.7 L252.0,846.6 L252.7,848.5 L253.4,850.3 L254.1,852.2 L254.7,854.2 L255.4,856.1 L255.9,858.1 L256.5,860.0 L257.1,862.0 L257.6,864.0 L258.2,865.9 L258.7,867.9 L259.2,869.9 L259.8,871.9 L260.3,873.9 L260.8,875.8 L261.3,877.8 L261.8,879.8 L262.3,881.8 L262.8,883.8 L263.3,885.7 L263.8,887.7 L264.4,889.7 L264.9,891.7 L265.4,893.6 L265.9,895.6 L266.4,897.6 L266.9,899.5 L267.4,901.5 L267.9,903.4 L268.5,905.4 L269.0,907.3 L269.5,909.3 L270.1,911.2 L270.6,913.1 L271.2,915.1 L271.8,917.0 L272.4,918.9 L272.9,920.8 L273.5,922.7 L274.1,924.6 L274.8,926.5 L275.4,928.4 L276.0,930.3 L276.7,932.2 L277.3,934.0 L278.0,935.9 L278.7,937.8 L279.4,939.6 L280.2,941.4 L280.9,943.3 L281.7,945.1 L282.4,946.9 L283.2,948.7 L284.0,950.5 L284.9,952.3 L285.7,954.0 L286.6,955.8 L287.5,957.6 L288.4,959.3 L289.3,961.0 L290.3,962.8 L291.3,964.5 L292.3,966.2 L293.3,967.8 L294.4,969.5 L295.4,971.2 L296.5,972.8 L297.7,974.5 L298.8,976.1 L300.0,977.7 L301.2,979.3 L302.5,980.9 L303.7,982.5 L305.0,984.0 L306.4,985.6 L307.7,987.1 L309.1,988.6 L310.5,990.0 L311.9,991.5 L313.4,992.9 L314.9,994.3 L316.4,995.7 L317.9,997.0 L319.5,998.3 L321.1,999.6 L322.7,1000.8 L324.3,1002.0 L326.0,1003.2 L327.6,1004.3 L329.3,1005.3 L331.1,1006.4 L332.8,1007.4 L334.6,1008.3 L336.4,1009.2 L338.2,1010.1 L340.0,1010.9 L341.8,1011.6 L343.7,1012.4 L345.5,1013.1 L347.4,1013.8 L349.3,1014.4 L351.2,1015.1 L353.1,1015.7 L355.0,1016.2 L356.9,1016.8 L358.9,1017.3 L360.8,1017.8 L362.7,1018.3 L364.7,1018.8 L366.6,1019.3 L368.6,1019.7 L370.5,1020.2 L372.5,1020.6 L374.4,1021.0 L376.4,1021.4 L378.3,1021.8 L380.3,1022.2 L382.2,1022.6 L384.2,1023.0 L386.2,1023.4 L388.1,1023.8 L390.1,1024.1 L392.0,1024.5 L394.0,1024.9 L396.0,1025.3 L397.9,1025.6 L399.9,1026.0 L401.9,1026.4 L403.8,1026.8 L405.8,1027.2 L407.8,1027.6 L409.8,1028.0 L411.7,1028.4 L413.7,1028.8 L415.7,1029.2 L417.6,1029.6 L419.6,1030.0 L421.6,1030.5 L423.5,1030.9 L425.5,1031.3 L427.5,1031.7 L429.4,1032.1 L431.4,1032.5 L433.4,1032.9 L435.4,1033.3 L437.3,1033.7 L439.3,1034.1 L441.3,1034.5 L443.3,1034.8 L445.2,1035.2 L447.2,1035.5 L449.2,1035.9 L451.2,1036.2 L453.1,1036.5 L455.1,1036.8 L457.1,1037.1 L459.1,1037.4 L461.1,1037.6 L463.1,1037.9 L465.1,1038.2 L467.0,1038.4 L469.0,1038.6 L471.0,1038.8 L473.0,1039.0 L475.0,1039.2 L477.0,1039.4 L479.0,1039.6 L481.0,1039.8 L483.0,1039.9 L485.0,1040.1 L487.0,1040.2 L489.0,1040.3 L491.0,1040.4 L492.9,1040.6 L494.9,1040.7 L496.9,1040.8 L498.9,1040.8 L500.9,1040.9 L502.9,1041.0 L504.9,1041.0 L506.9,1041.1 L508.9,1041.1 L510.9,1041.2 L512.9,1041.2 L514.9,1041.2 L516.9,1041.2 L518.9,1041.3 L520.9,1041.3 L523.0,1041.2 L525.0,1041.2 L527.0,1041.2 L529.0,1041.2 L531.0,1041.2 L533.0,1041.1 L535.0,1041.1 L537.0,1041.0 L539.0,1041.0 L541.0,1040.9 L543.0,1040.8 L545.0,1040.8 L547.0,1040.7 L549.0,1040.6 L551.0,1040.5 L553.0,1040.4 L555.0,1040.3 L557.0,1040.2 L559.0,1040.1 L561.0,1040.0 L563.0,1039.9 L565.0,1039.8 L567.0,1039.7 L569.0,1039.6 L571.0,1039.5 L573.0,1039.4 L575.0,1039.3 L577.0,1039.2 L579.0,1039.1 L581.0,1039.0 L583.0,1039.0 L585.0,1038.9 L587.0,1038.8 L589.0,1038.8 L591.0,1038.7 L593.0,1038.7 L595.0,1038.7 L597.0,1038.6 L599.0,1038.6 L601.0,1038.6 L603.0,1038.6 L605.0,1038.7 L607.0,1038.7 L609.0,1038.8 L611.0,1038.8 L613.0,1038.9 L615.0,1039.0 L617.0,1039.2 L619.0,1039.3 L621.0,1039.5 L623.0,1039.6 L625.0,1039.8 L627.0,1040.0 L629.0,1040.3 L631.0,1040.5 L633.0,1040.7 L635.0,1041.0 L637.0,1041.3 L639.0,1041.5 L641.0,1041.8 L643.0,1042.1 L645.0,1042.4 L647.0,1042.7 L649.0,1042.9 L651.0,1043.2 L653.0,1043.5 L655.0,1043.7 L657.0,1044.0 L659.0,1044.2 L661.0,1044.4 L663.0,1044.6 L665.0,1044.8 L667.0,1045.0 L669.0,1045.1 L671.0,1045.2 L673.0,1045.3 L675.0,1045.4 L677.0,1045.4 L679.0,1045.4 L681.0,1045.4 L683.0,1045.4 L685.0,1045.3 L687.0,1045.1 L689.0,1045.0 L696.0,1051.1 L698.0,1051.2 L700.0,1051.2 L702.0,1051.3 L704.1,1051.4 L706.1,1051.5 L708.1,1051.6 L710.1,1051.7 L712.1,1051.8 L714.1,1051.9 L716.2,1052.0 L718.2,1052.1 L720.2,1052.2 L722.2,1052.3 L724.2,1052.4 L726.2,1052.5 L728.3,1052.6 L730.3,1052.7 L732.3,1052.8 L734.3,1052.9 L736.3,1053.0 L738.3,1053.1 L740.3,1053.1 L742.4,1053.2 L744.4,1053.3 L746.4,1053.4 L748.4,1053.5 L750.4,1053.6 L752.4,1053.7 L754.5,1053.8 L756.5,1053.8 L758.5,1053.9 L760.5,1054.0 L762.5,1054.1 L764.5,1054.2 L766.6,1054.3 L768.6,1054.4 L770.6,1054.4 L772.6,1054.5 L774.6,1054.6 L776.6,1054.7 L778.7,1054.8 L780.7,1054.8 L782.7,1054.9 L784.7,1055.0 L786.7,1055.1 L788.7,1055.2 L790.8,1055.2 L792.8,1055.3 L794.8,1055.4 L796.8,1055.5 L798.8,1055.5 L800.8,1055.6 L802.9,1055.7 L804.9,1055.8 L806.9,1055.8 L808.9,1055.9 L810.9,1056.0 L812.9,1056.1 L815.0,1056.1 L817.0,1056.2 L819.0,1056.3 L821.0,1056.3 L823.0,1056.4 L825.0,1056.5 L827.1,1056.5 L829.1,1056.6 L831.1,1056.7 L833.1,1056.7 L835.1,1056.8 L837.1,1056.9 L839.2,1056.9 L841.2,1057.0 L843.2,1057.1 L845.2,1057.1 L847.2,1057.2 L849.3,1057.2 L851.3,1057.3 L853.3,1057.4 L855.3,1057.4 L857.3,1057.5 L859.3,1057.5 L861.4,1057.6 L863.4,1057.7 L865.4,1057.7 L867.4,1057.8 L869.4,1057.8 L871.4,1057.9 L873.5,1057.9 L875.5,1058.0 L877.5,1058.1 L879.5,1058.1 L881.5,1058.2 L883.5,1058.2 L885.6,1058.3 L887.6,1058.3 L889.6,1058.4 L891.6,1058.4 L893.6,1058.5 L895.6,1058.5 L897.7,1058.6 L899.7,1058.6 L901.7,1058.6 L903.7,1058.7 L905.7,1058.7 L907.8,1058.8 L909.8,1058.8 L911.8,1058.9 L913.8,1058.9 L915.8,1059.0 L917.8,1059.0 L919.9,1059.0 L921.9,1059.1 L923.9,1059.1 L925.9,1059.2 L927.9,1059.2 L929.9,1059.2 L932.0,1059.3 L934.0,1059.3 L936.0,1059.3 L938.0,1059.4 L940.0,1059.4 L942.1,1059.4 L944.1,1059.5 L946.1,1059.5 L948.1,1059.5 L950.1,1059.6 L952.1,1059.6 L954.2,1059.6 L956.2,1059.7 L958.2,1059.7 L960.2,1059.7 L962.2,1059.7 L964.3,1059.8 L966.3,1059.8 L968.3,1059.8 L970.3,1059.8 L972.3,1059.9 L974.3,1059.9 L976.4,1059.9 L978.4,1059.9 L980.4,1059.9 L982.4,1060.0 L984.4,1060.0 L986.5,1060.0 L988.5,1060.0 L990.5,1060.0 L992.5,1060.1 L994.5,1060.1 L996.5,1060.1 L998.6,1060.1 L1000.6,1060.1 L1002.6,1060.1 L1004.6,1060.1 L1006.6,1060.2 L1008.7,1060.2 L1010.7,1060.2 L1012.7,1060.2 L1014.7,1060.2 L1016.7,1060.2 L1018.7,1060.2 L1020.8,1060.2 L1022.8,1060.2 L1024.8,1060.2 L1026.8,1060.2 L1028.8,1060.2 L1030.9,1060.2 L1032.9,1060.2 L1034.9,1060.2 L1036.9,1060.2 L1038.9,1060.2 L1040.9,1060.2 L1043.0,1060.2 L1045.0,1060.2 L1047.0,1060.2 L1050.0,1063.1 L1415.0,1063.8 L1420.0,1066.3 L1550.0,1066.5" fill="none" stroke="#0000ff" stroke-width="11.5" stroke-linejoin="round" stroke-linecap="butt"/>
<polygon points="48.0,427.0 48.0,387.0 51.9,387.0 51.9,361.0 54.2,357.0 60.9,357.0 61.0,340.0 63.6,336.0 72.2,336.0 72.6,327.0 74.9,320.6 83.9,320.6 86.1,324.0 88.0,324.4 88.0,342.5 89.9,342.5 89.9,360.0 83.9,360.0 83.9,352.0 81.6,344.7 79.4,344.7 79.0,351.5 74.8,354.5 72.2,357.0 72.2,367.3 70.0,368.0 70.0,383.8 68.1,389.8 61.3,391.3 61.3,400.3 56.8,402.6 56.8,419.9 54.2,425.0 51.9,427.0" fill="#ff0000"/>
<path d="M87.6,345.0 L87.8,347.0 L88.0,348.9 L88.2,350.9 L88.4,352.9 L88.6,354.9 L88.8,356.9 L89.0,358.9 L89.2,360.9 L89.4,362.8 L89.6,364.8 L89.7,366.8 L89.9,368.8 L90.1,370.8 L90.3,372.8 L90.5,374.8 L90.7,376.8 L90.9,378.7 L91.1,380.7 L91.2,382.7 L91.4,384.7 L91.6,386.7 L91.8,388.7 L92.0,390.7 L92.2,392.7 L92.3,394.7 L92.5,396.7 L92.7,398.6 L92.9,400.6 L93.0,402.6 L93.2,404.6 L93.4,406.6 L93.6,408.6 L93.8,410.6 L93.9,412.6 L94.1,414.6 L94.3,416.6 L94.4,418.6 L94.6,420.6 L94.8,422.6 L95.0,424.6 L95.1,426.6 L95.3,428.6 L95.5,430.6 L95.6,432.5 L95.8,434.5 L96.0,436.5 L96.1,438.5 L96.3,440.5 L96.5,442.5 L96.6,444.5 L96.8,446.5 L97.0,448.5 L97.1,450.5 L97.3,452.5 L97.5,454.5 L97.6,456.5 L97.8,458.5 L98.0,460.5 L98.1,462.5 L98.3,464.5 L98.4,466.5 L98.6,468.5 L98.8,470.5 L98.9,472.5 L99.1,474.5 L99.2,476.5 L99.4,478.5 L99.6,480.5 L99.7,482.5 L99.9,484.5 L100.0,486.5 L100.2,488.5 L100.3,490.5 L100.5,492.5 L100.7,494.5 L100.8,496.5 L101.0,498.5 L101.1,500.5 L101.3,502.5 L101.4,504.5 L101.6,506.5 L101.7,508.5 L101.9,510.5 L102.0,512.5 L102.2,514.5 L102.3,516.5 L102.5,518.5 L102.6,520.5 L102.8,522.5 L102.9,524.5 L103.1,526.5 L103.2,528.5 L103.4,530.5 L103.5,532.5 L103.7,534.5 L103.8,536.5 L104.0,538.5 L104.1,540.5 L104.3,542.5 L104.4,544.5 L104.6,546.5 L104.7,548.5 L104.9,550.5 L105.0,552.5 L105.2,554.5 L105.3,556.5 L105.5,558.5 L105.6,560.5 L105.8,562.5 L105.9,564.5 L106.1,566.5 L106.2,568.5 L106.4,570.5 L106.5,572.5 L106.7,574.5 L106.8,576.5 L107.0,578.4 L107.1,580.4 L107.3,582.4 L107.4,584.4 L107.5,586.4 L107.7,588.4 L107.8,590.4 L108.0,592.4 L108.1,594.4 L108.3,596.4 L108.4,598.4 L108.6,600.4 L108.7,602.4 L108.9,604.4 L109.0,606.4 L109.2,608.4 L109.3,610.4 L109.5,612.4 L109.6,614.4 L109.8,616.4 L109.9,618.4 L110.1,620.4 L110.2,622.4 L110.4,624.3 L110.5,626.3 L110.7,628.3 L110.8,630.3 L111.0,632.3 L111.1,634.3 L111.3,636.3 L111.4,638.3 L111.6,640.3 L111.7,642.3 L111.9,644.3 L112.0,646.3 L112.2,648.3 L112.4,650.3 L112.5,652.3 L112.7,654.2 L112.8,656.2 L113.0,658.2 L113.2,660.2 L113.3,662.2 L113.5,664.2 L113.6,666.2 L113.8,668.2 L114.0,670.2 L114.1,672.2 L114.3,674.2 L114.5,676.2 L114.6,678.1 L114.8,680.1 L115.0,682.1 L115.2,684.1 L115.3,686.1 L115.5,688.1 L115.7,690.1 L115.9,692.1 L116.0,694.1 L116.2,696.1 L116.4,698.1 L116.6,700.0 L116.8,702.0 L117.0,704.0 L117.1,706.0 L117.3,708.0 L117.5,710.0 L117.7,712.0 L117.9,714.0 L118.1,716.0 L118.3,718.0 L118.5,719.9 L118.7,721.9 L118.9,723.9 L119.1,725.9 L119.3,727.9 L119.5,729.9 L119.7,731.9 L119.9,733.9 L120.1,735.9 L120.3,737.9 L120.5,739.8 L120.8,741.8 L121.0,743.8 L121.2,745.8 L121.4,747.8 L121.6,749.8 L121.9,751.8 L122.1,753.8 L122.3,755.8 L122.6,757.8 L122.8,759.7 L123.0,761.7 L123.3,763.7 L123.5,765.7 L123.7,767.7 L124.0,769.7 L124.2,771.7 L124.5,773.7 L124.7,775.7 L125.0,777.7 L125.2,779.6 L125.5,781.6 L125.8,783.6 L126.0,785.6 L126.3,787.6 L126.6,789.6 L126.8,791.6 L127.1,793.6 L127.4,795.6 L127.6,797.6 L127.9,799.5 L128.2,801.5 L128.5,803.5 L128.8,805.5 L129.1,807.5 L129.4,809.5 L129.7,811.5 L130.0,813.5 L130.3,815.5 L130.6,817.5 L130.9,819.5 L131.2,821.4 L131.5,823.4 L131.8,825.4 L132.1,827.4 L132.4,829.4 L132.8,831.4 L133.1,833.4 L133.4,835.4 L133.7,837.4 L134.1,839.4 L134.4,841.4 L134.8,843.4 L135.1,845.3 L135.5,847.3 L135.8,849.3 L136.2,851.3 L136.5,853.3 L136.9,855.3 L137.2,857.3 L137.6,859.3 L138.0,861.3 L138.4,863.3 L138.7,865.3 L139.1,867.3 L139.5,869.3 L139.9,871.3 L140.3,873.2 L140.7,875.2 L141.1,877.2 L141.5,879.2 L141.9,881.2 L142.4,883.1 L142.9,885.1 L143.4,887.0 L143.9,888.9 L144.5,890.8 L145.1,892.7 L145.8,894.6 L146.4,896.4 L147.2,898.2 L148.0,900.0 L148.8,901.7 L149.7,903.4 L150.6,905.1 L151.6,906.7 L152.7,908.3 L153.8,909.9 L155.0,911.4 L156.3,912.9 L157.7,914.3 L159.1,915.6 L160.6,916.9 L162.2,917.9 L163.9,918.4 L165.6,918.4 L167.4,918.1 L169.1,917.4 L170.8,916.6 L172.5,915.6 L174.0,914.5 L175.5,913.2 L177.0,911.9 L178.4,910.4 L179.7,908.9 L181.0,907.3 L182.3,905.6 L183.5,903.8 L184.7,902.1 L185.9,900.3 L187.0,898.4 L188.1,896.6 L189.3,894.8 L190.4,892.9 L191.5,891.1 L192.5,889.4 L193.6,887.7 L194.7,886.0 L195.8,884.3 L196.9,882.7 L198.0,881.1 L199.1,879.6 L200.2,878.0 L201.3,876.4 L202.3,874.9 L203.4,873.3 L204.5,871.8 L205.6,870.2 L206.7,868.6 L207.7,867.0 L208.8,865.3 L209.9,863.7 L210.9,862.0 L212.0,860.2 L213.1,858.5 L214.2,856.7 L215.2,854.9 L216.3,853.1 L217.4,851.2 L218.5,849.3 L219.6,847.4 L220.8,845.4 L221.9,843.5 L223.1,841.8 L224.5,840.2 L225.9,839.0 L227.4,838.1 L229.1,837.7 L230.9,837.7 L232.8,837.9 L234.7,838.5 L236.6,839.3 L238.5,840.2 L240.2,841.3 L241.8,842.4 L243.4,843.6 L244.8,844.9 L246.1,846.2 L247.4,847.7 L248.6,849.2 L249.7,850.7 L250.7,852.3 L251.7,854.0 L252.6,855.7 L253.4,857.5 L254.2,859.3 L255.0,861.1 L255.7,863.0 L256.4,864.9 L257.0,866.8 L257.6,868.8 L258.2,870.8 L258.8,872.7 L259.4,874.7 L260.0,876.7 L260.5,878.7 L261.1,880.7 L261.7,882.7 L262.3,884.7 L262.9,886.7 L263.5,888.6 L264.2,890.5 L264.8,892.5 L265.5,894.4 L266.3,896.2 L267.0,898.1 L267.8,899.9 L268.5,901.8 L269.3,903.6 L270.2,905.4 L271.0,907.2 L271.8,909.0 L272.7,910.8 L273.6,912.5 L274.5,914.3 L275.4,916.0 L276.3,917.7 L277.3,919.4 L278.2,921.2 L279.2,922.9 L280.2,924.6 L281.2,926.3 L282.2,927.9 L283.2,929.6 L284.2,931.3 L285.2,933.0 L286.2,934.6 L287.3,936.3 L288.3,938.0 L289.4,939.6 L290.5,941.3 L291.5,943.0 L292.6,944.6 L293.7,946.3 L294.8,947.9 L295.8,949.6 L296.9,951.3 L298.0,953.0 L299.1,954.6 L300.2,956.3 L301.3,958.0 L302.4,959.7 L303.5,961.4 L304.6,963.1 L305.6,964.8 L306.7,966.5 L307.8,968.2 L308.9,969.9 L310.0,971.7 L311.0,973.4 L312.1,975.1 L313.2,976.9 L314.3,978.6 L315.4,980.4 L316.5,982.1 L317.6,983.8 L318.7,985.5 L319.8,987.3 L320.9,989.0 L322.0,990.7 L323.2,992.4 L324.3,994.0 L325.5,995.7 L326.6,997.4 L327.8,999.0 L329.0,1000.6 L330.2,1002.2 L331.4,1003.8 L332.7,1005.4 L333.9,1007.0 L335.2,1008.5 L336.5,1010.0 L337.8,1011.5 L339.1,1013.0 L340.5,1014.4 L341.8,1015.8 L343.2,1017.2 L344.6,1018.5 L346.0,1019.8 L347.5,1021.1 L349.0,1022.4 L350.5,1023.6 L352.0,1024.8 L353.6,1025.9 L355.2,1027.1 L356.8,1028.1 L358.4,1029.2 L360.1,1030.1 L361.8,1031.1 L363.6,1032.0 L365.3,1032.9 L367.1,1033.7 L368.9,1034.6 L370.7,1035.4 L372.6,1036.1 L374.4,1036.9 L376.3,1037.6 L378.2,1038.3 L380.1,1039.0 L382.1,1039.7 L384.0,1040.4 L385.9,1041.0 L387.9,1041.7 L389.8,1042.3 L391.8,1043.0 L393.7,1043.7 L395.7,1044.3 L397.6,1045.0 L399.6,1045.7 L401.5,1046.4 L403.5,1047.1 L405.4,1047.8 L407.3,1048.6 L409.2,1049.3 L411.2,1050.1 L413.1,1050.8 L415.0,1051.6 L416.9,1052.3 L418.8,1052.9 L420.7,1053.6 L422.6,1054.2 L424.5,1054.7 L426.4,1055.2 L428.3,1055.7 L430.3,1056.0 L432.2,1056.3 L434.1,1056.6 L436.1,1056.8 L438.0,1056.9 L440.0,1057.0 L442.0,1057.0 L443.9,1057.0 L445.9,1056.9 L447.9,1056.8 L449.8,1056.7 L451.8,1056.5 L453.8,1056.3 L455.8,1056.0 L457.7,1055.8 L459.7,1055.5 L461.7,1055.1 L463.7,1054.8 L465.6,1054.4 L467.6,1054.0 L469.6,1053.6 L471.5,1053.2 L473.5,1052.8 L475.5,1052.4 L477.4,1051.9 L479.4,1051.5 L481.3,1051.0 L483.3,1050.6 L485.2,1050.1 L487.2,1049.6 L489.1,1049.1 L491.0,1048.6 L493.0,1048.1 L494.9,1047.6 L496.9,1047.1 L498.8,1046.5 L500.7,1046.0 L502.6,1045.5 L504.6,1044.9 L506.5,1044.4 L508.4,1043.8 L510.4,1043.3 L512.3,1042.7 L514.2,1042.1 L516.1,1041.5 L518.0,1041.0 L520.0,1040.4 L521.9,1039.8 L523.8,1039.2 L525.7,1038.6 L527.6,1038.0 L529.5,1037.4 L531.4,1036.8 L533.4,1036.2 L535.3,1035.7 L537.2,1035.1 L539.1,1034.5 L541.0,1033.9 L542.9,1033.3 L544.8,1032.7 L546.8,1032.1 L548.7,1031.5 L550.6,1030.9 L552.5,1030.3 L554.4,1029.7 L556.3,1029.1 L558.3,1028.5 L560.2,1028.0 L562.1,1027.4 L564.0,1026.8 L565.9,1026.3 L567.9,1025.7 L569.8,1025.1 L571.7,1024.6 L573.6,1024.0 L575.6,1023.5 L577.5,1023.0 L579.4,1022.4 L581.3,1021.9 L583.3,1021.4 L585.2,1020.9 L587.1,1020.3 L589.1,1019.8 L591.0,1019.3 L593.0,1018.8 L594.9,1018.3 L596.8,1017.9 L598.8,1017.4 L600.7,1016.9 L602.7,1016.4 L604.6,1016.0 L606.6,1015.5 L608.5,1015.0 L610.5,1014.6 L612.4,1014.1 L614.4,1013.7 L616.3,1013.3 L618.3,1012.8 L620.2,1012.4 L622.2,1012.0 L624.1,1011.5 L626.1,1011.1 L628.0,1010.7 L630.0,1010.3 L632.0,1009.9 L633.9,1009.5 L635.9,1009.1 L637.8,1008.7 L639.8,1008.3 L641.8,1007.9 L643.7,1007.5 L645.7,1007.2 L647.7,1006.8 L649.6,1006.4 L651.6,1006.1 L653.6,1005.7 L655.5,1005.4 L657.5,1005.0 L659.5,1004.6 L661.5,1004.3 L663.4,1004.0 L665.4,1003.6 L667.4,1003.3 L669.4,1003.0 L671.3,1002.6 L673.3,1002.3 L675.3,1002.0 L677.3,1001.7 L679.2,1001.4 L681.2,1001.1 L683.2,1000.7 L685.2,1000.4 L687.2,1000.1 L689.2,999.9 L691.1,999.6 L693.1,999.3 L695.1,999.0 L697.1,998.7 L699.1,998.4 L701.1,998.1 L703.0,997.9 L705.0,997.6 L707.0,997.3 L709.0,997.1 L711.0,996.8 L713.0,996.6 L715.0,996.3 L717.0,996.0 L718.9,995.8 L720.9,995.5 L722.9,995.3 L724.9,995.1 L726.9,994.8 L728.9,994.6 L730.9,994.3 L732.9,994.1 L734.9,993.9 L736.9,993.7 L738.9,993.4 L740.8,993.2 L742.8,993.0 L744.8,992.8 L746.8,992.6 L748.8,992.4 L750.8,992.1 L752.8,991.9 L754.8,991.7 L756.8,991.5 L758.8,991.3 L760.8,991.1 L762.8,990.9 L764.8,990.7 L766.8,990.5 L768.8,990.4 L770.8,990.2 L772.8,990.0 L774.8,989.8 L776.8,989.6 L778.8,989.4 L780.8,989.3 L782.7,989.1 L784.7,988.9 L786.7,988.7 L788.7,988.6 L790.7,988.4 L792.7,988.2 L794.7,988.0 L796.7,987.9 L798.7,987.7 L800.7,987.6 L802.7,987.4 L804.7,987.2 L806.7,987.1 L808.7,986.9 L810.7,986.8 L812.7,986.6 L814.7,986.5 L816.7,986.3 L818.7,986.1 L820.7,986.0 L822.7,985.9 L824.7,985.7 L826.7,985.6 L828.7,985.4 L830.6,985.3 L832.6,985.1 L834.6,985.0 L836.6,984.9 L838.6,984.7 L840.6,984.6 L842.6,984.4 L844.6,984.3 L846.6,984.2 L848.6,984.0 L850.6,983.9 L852.6,983.8 L854.6,983.6 L856.6,983.5 L858.6,983.4 L860.6,983.3 L862.6,983.1 L864.6,983.0 L866.6,982.9 L868.6,982.8 L870.6,982.6 L872.6,982.5 L874.6,982.4 L876.6,982.3 L878.6,982.2 L880.6,982.0 L882.6,981.9 L884.6,981.8 L886.6,981.7 L888.6,981.6 L890.6,981.5 L892.5,981.3 L894.5,981.2 L896.5,981.1 L898.5,981.0 L900.5,980.9 L902.5,980.8 L904.5,980.7 L906.5,980.5 L908.5,980.4 L910.5,980.3 L912.5,980.2 L914.5,980.1 L916.5,980.0 L918.5,979.9 L920.5,979.8 L922.5,979.7 L924.5,979.6 L926.5,979.5 L928.5,979.3 L930.5,979.2 L932.5,979.1 L934.5,979.0 L936.5,978.9 L938.5,978.8 L940.5,978.7 L942.5,978.6 L944.5,978.5 L946.6,978.4 L948.6,978.3 L950.6,978.2 L952.6,978.1 L954.6,978.0 L956.6,977.9 L958.6,977.8 L960.6,977.7 L962.6,977.5 L964.6,977.4 L966.6,977.4 L968.6,977.3 L970.6,977.2 L972.6,977.1 L974.6,977.0 L976.6,976.9 L978.6,976.8 L980.6,976.7 L982.6,976.6 L984.6,976.6 L986.6,976.5 L988.6,976.4 L990.6,976.4 L992.6,976.3 L994.6,976.2 L996.6,976.2 L998.6,976.2 L1000.6,976.1 L1002.6,976.1 L1004.6,976.0 L1006.6,976.0 L1008.6,976.0 L1010.6,976.0 L1012.6,976.0 L1014.6,976.0 L1016.6,976.0 L1018.6,976.0 L1020.6,976.0 L1022.6,976.0 L1024.6,976.1 L1026.6,976.1 L1028.6,976.2 L1030.6,976.2 L1032.6,976.3 L1034.6,976.4 L1036.6,976.4 L1038.6,976.5 L1040.6,976.6 L1042.6,976.7 L1044.6,976.9 L1046.6,977.0 L1048.5,977.1 L1050.5,977.3 L1052.5,977.4 L1054.5,977.6 L1056.5,977.8 L1058.5,977.9 L1060.5,978.1 L1062.4,978.3 L1064.4,978.5 L1066.4,978.7 L1068.4,979.0 L1070.4,979.2 L1072.4,979.4 L1074.3,979.7 L1076.3,979.9 L1078.3,980.2 L1080.3,980.5 L1082.3,980.7 L1084.2,981.0 L1086.2,981.3 L1088.2,981.6 L1090.2,981.9 L1092.2,982.2 L1094.1,982.5 L1096.1,982.8 L1098.1,983.1 L1100.1,983.4 L1102.0,983.7 L1104.0,984.1 L1106.0,984.4 L1108.0,984.7 L1109.9,985.1 L1111.9,985.4 L1113.9,985.7 L1115.9,986.1 L1117.8,986.4 L1119.8,986.8 L1121.8,987.1 L1123.8,987.5 L1125.7,987.9 L1127.7,988.2 L1129.7,988.6 L1131.7,988.9 L1133.6,989.3 L1135.6,989.7 L1137.6,990.0 L1139.5,990.4 L1141.5,990.8 L1143.5,991.1 L1145.5,991.5 L1147.4,991.9 L1149.4,992.2 L1151.4,992.6 L1153.4,992.9 L1155.3,993.3 L1157.3,993.7 L1159.3,994.0 L1161.3,994.4 L1163.2,994.7 L1165.2,995.1 L1167.2,995.4 L1169.2,995.8 L1171.1,996.1 L1173.1,996.5 L1175.1,996.8 L1177.1,997.1 L1179.1,997.5 L1181.0,997.8 L1183.0,998.1 L1185.0,998.4 L1187.0,998.8 L1188.9,999.1 L1190.9,999.4 L1192.9,999.7 L1194.9,1000.0 L1196.9,1000.3 L1198.9,1000.5 L1200.8,1000.8 L1202.8,1001.1 L1204.8,1001.4 L1206.8,1001.7 L1208.8,1001.9 L1210.8,1002.2 L1212.7,1002.5 L1214.7,1002.7 L1216.7,1003.0 L1218.7,1003.2 L1220.7,1003.5 L1222.7,1003.7 L1224.6,1004.0 L1226.6,1004.2 L1228.6,1004.5 L1230.6,1004.7 L1232.6,1005.0 L1234.6,1005.2 L1236.6,1005.5 L1238.5,1005.7 L1240.5,1005.9 L1242.5,1006.2 L1244.5,1006.4 L1246.5,1006.6 L1248.5,1006.9 L1250.5,1007.1 L1252.4,1007.3 L1254.4,1007.6 L1256.4,1007.8 L1258.4,1008.1 L1260.4,1008.3 L1262.4,1008.5 L1264.4,1008.8 L1266.4,1009.0 L1268.3,1009.3 L1270.3,1009.5 L1272.3,1009.7 L1274.3,1010.0 L1276.3,1010.2 L1278.3,1010.5 L1280.2,1010.7 L1282.2,1011.0 L1284.2,1011.2 L1286.2,1011.5 L1288.2,1011.8 L1290.2,1012.0 L1292.2,1012.3 L1294.1,1012.6 L1296.1,1012.8 L1298.1,1013.1 L1300.1,1013.4 L1302.1,1013.7 L1304.0,1013.9 L1306.0,1014.2 L1308.0,1014.5 L1310.0,1014.8 L1312.0,1015.1 L1314.0,1015.3 L1315.9,1015.6 L1317.9,1015.9 L1319.9,1016.2 L1321.9,1016.5 L1323.9,1016.8 L1325.8,1017.1 L1327.8,1017.4 L1329.8,1017.7 L1331.8,1018.0 L1333.8,1018.3 L1335.7,1018.6 L1337.7,1018.9 L1339.7,1019.2 L1341.7,1019.5 L1343.7,1019.8 L1345.6,1020.1 L1347.6,1020.4 L1349.6,1020.7 L1351.6,1021.0 L1353.5,1021.4 L1355.5,1021.7 L1357.5,1022.0 L1359.5,1022.3 L1361.5,1022.6 L1363.4,1022.9 L1365.4,1023.2 L1367.4,1023.5 L1369.4,1023.9 L1371.4,1024.2 L1373.3,1024.5 L1375.3,1024.8 L1377.3,1025.1 L1379.3,1025.4 L1381.2,1025.8 L1383.2,1026.1 L1385.2,1026.4 L1387.2,1026.7 L1389.2,1027.0 L1391.1,1027.3 L1393.1,1027.6 L1395.1,1028.0 L1397.1,1028.3 L1399.1,1028.6 L1401.0,1028.9 L1403.0,1029.2 L1405.0,1029.5 L1407.0,1029.8 L1409.0,1030.2 L1410.9,1030.5 L1412.9,1030.8 L1414.9,1031.1 L1416.9,1031.4 L1418.8,1031.7 L1420.8,1032.0 L1422.8,1032.3 L1424.8,1032.6 L1426.8,1032.9 L1428.7,1033.2 L1430.7,1033.5 L1432.7,1033.8 L1434.7,1034.1 L1436.7,1034.4 L1438.7,1034.7 L1440.6,1035.0 L1442.6,1035.3 L1444.6,1035.6 L1446.6,1035.9 L1448.6,1036.2 L1450.5,1036.5 L1452.5,1036.8 L1454.5,1037.1 L1456.5,1037.3 L1458.5,1037.6 L1460.5,1037.9 L1462.4,1038.2 L1464.4,1038.5 L1466.4,1038.7 L1468.4,1039.0 L1470.4,1039.3 L1472.4,1039.5 L1474.3,1039.8 L1476.3,1040.1 L1478.3,1040.3 L1480.3,1040.6 L1482.3,1040.9 L1484.3,1041.1 L1486.3,1041.4 L1488.2,1041.6 L1490.2,1041.9 L1492.2,1042.1 L1494.2,1042.3 L1496.2,1042.6 L1498.2,1042.8 L1500.2,1043.1 L1502.2,1043.3 L1504.1,1043.5 L1506.1,1043.7 L1508.1,1044.0 L1510.1,1044.2 L1512.1,1044.4 L1514.1,1044.6 L1516.1,1044.8 L1518.1,1045.0 L1520.1,1045.2 L1522.1,1045.4 L1524.1,1045.6 L1526.1,1045.8 L1528.0,1046.0 L1530.0,1046.2 L1532.0,1046.4 L1534.0,1046.6 L1536.0,1046.8 L1538.0,1046.9 L1540.0,1047.1 L1542.0,1047.3 L1544.0,1047.4 L1546.0,1047.6 L1548.0,1047.7" fill="none" stroke="#ff0000" stroke-width="11.5" stroke-linejoin="round" stroke-linecap="butt"/>
<polygon points="56.8,114.0 65.8,114.0 65.8,116.3 68.1,116.3 68.1,125.7 72.2,125.7 72.2,123.0 74.9,123.0 74.9,126.1 79.4,126.1 79.4,153.2 81.6,153.2 81.6,189.3 83.9,189.3 83.9,191.5 85.9,191.5 85.9,215.0 88.2,215.0 88.2,238.0 90.4,238.0 90.4,262.0 92.7,262.0 92.7,292.6 94.9,292.6 94.9,300.0 83.0,300.0 81.4,294.0 81.4,262.0 79.1,262.0 79.1,238.0 76.9,238.0 76.9,215.0 74.6,215.0 74.6,204.0 74.9,203.2 72.2,203.2 72.2,198.7 70.0,198.7 70.0,172.7 66.2,172.7 65.8,179.1 63.9,179.1 63.2,180.2 63.2,187.4 59.0,187.4 58.8,226.0 56.6,226.0 56.6,280.0 56.4,281.5 54.2,281.5 54.2,285.6 48.0,285.6 48.0,131.0 51.9,128.5 56.8,127.5" fill="#00ff00"/>
<path d="M88.4,287.9 L88.6,289.9 L88.8,291.8 L89.0,293.8 L89.3,295.8 L89.5,297.8 L89.7,299.8 L89.9,301.8 L90.1,303.8 L90.3,305.7 L90.5,307.7 L90.7,309.7 L90.9,311.7 L91.1,313.7 L91.3,315.7 L91.5,317.7 L91.7,319.7 L91.9,321.6 L92.1,323.6 L92.3,325.6 L92.5,327.6 L92.7,329.6 L92.9,331.6 L93.1,333.6 L93.3,335.6 L93.5,337.6 L93.7,339.6 L93.9,341.5 L94.1,343.5 L94.3,345.5 L94.5,347.5 L94.7,349.5 L94.9,351.5 L95.1,353.5 L95.3,355.5 L95.5,357.5 L95.7,359.5 L95.9,361.5 L96.1,363.5 L96.3,365.4 L96.5,367.4 L96.7,369.4 L96.9,371.4 L97.1,373.4 L97.3,375.4 L97.5,377.4 L97.7,379.4 L97.9,381.4 L98.1,383.4 L98.3,385.4 L98.4,387.4 L98.6,389.4 L98.8,391.4 L99.0,393.3 L99.2,395.3 L99.4,397.3 L99.6,399.3 L99.8,401.3 L100.0,403.3 L100.2,405.3 L100.5,407.3 L100.7,409.3 L100.9,411.3 L101.1,413.3 L101.3,415.3 L101.5,417.3 L101.7,419.3 L101.9,421.3 L102.1,423.2 L102.3,425.2 L102.5,427.2 L102.7,429.2 L102.9,431.2 L103.1,433.2 L103.3,435.2 L103.5,437.2 L103.8,439.2 L104.0,441.2 L104.2,443.2 L104.4,445.2 L104.6,447.2 L104.8,449.2 L105.0,451.1 L105.2,453.1 L105.5,455.1 L105.7,457.1 L105.9,459.1 L106.1,461.1 L106.3,463.1 L106.6,465.1 L106.8,467.1 L107.0,469.1 L107.2,471.1 L107.5,473.1 L107.7,475.0 L107.9,477.0 L108.1,479.0 L108.4,481.0 L108.6,483.0 L108.8,485.0 L109.1,487.0 L109.3,489.0 L109.5,491.0 L109.8,493.0 L110.0,494.9 L110.3,496.9 L110.5,498.9 L110.7,500.9 L111.0,502.9 L111.2,504.9 L111.5,506.9 L111.7,508.9 L112.0,510.9 L112.2,512.8 L112.5,514.8 L112.7,516.8 L113.0,518.8 L113.2,520.8 L113.5,522.8 L113.7,524.8 L114.0,526.7 L114.3,528.7 L114.5,530.7 L114.8,532.7 L115.1,534.7 L115.3,536.7 L115.6,538.6 L115.9,540.6 L116.1,542.6 L116.4,544.6 L116.7,546.6 L117.0,548.6 L117.3,550.5 L117.5,552.5 L117.8,554.5 L118.1,556.5 L118.4,558.5 L118.7,560.4 L119.0,562.4 L119.3,564.4 L119.6,566.4 L119.9,568.4 L120.2,570.3 L120.5,572.3 L120.8,574.3 L121.1,576.3 L121.4,578.2 L121.7,580.2 L122.0,582.2 L122.3,584.2 L122.6,586.1 L122.9,588.1 L123.2,590.1 L123.6,592.1 L123.9,594.0 L124.2,596.0 L124.5,598.0 L124.9,600.0 L125.2,601.9 L125.5,603.9 L125.9,605.9 L126.2,607.8 L126.6,609.8 L126.9,611.8 L127.2,613.7 L127.6,615.7 L127.9,617.7 L128.3,619.6 L128.6,621.6 L129.0,623.6 L129.4,625.6 L129.7,627.5 L130.1,629.5 L130.4,631.5 L130.8,633.4 L131.2,635.4 L131.5,637.4 L131.9,639.3 L132.3,641.3 L132.7,643.3 L133.0,645.2 L133.4,647.2 L133.8,649.2 L134.2,651.1 L134.6,653.1 L134.9,655.1 L135.3,657.0 L135.7,659.0 L136.1,661.0 L136.5,662.9 L136.9,664.9 L137.3,666.9 L137.7,668.9 L138.1,670.8 L138.5,672.8 L138.9,674.8 L139.3,676.8 L139.7,678.7 L140.1,680.7 L140.5,682.7 L140.9,684.7 L141.3,686.6 L141.7,688.6 L142.1,690.6 L142.5,692.6 L142.9,694.6 L143.3,696.5 L143.8,698.5 L144.2,700.5 L144.6,702.5 L145.1,704.4 L145.6,706.4 L146.2,708.3 L146.8,710.2 L147.4,712.0 L148.1,713.9 L148.9,715.7 L149.8,717.5 L150.7,719.2 L151.7,720.9 L152.8,722.6 L154.0,724.2 L155.4,725.7 L156.8,727.2 L158.3,728.6 L159.9,729.9 L161.6,731.0 L163.3,731.9 L165.0,732.6 L166.7,732.9 L168.4,733.0 L170.0,732.7 L171.6,732.1 L173.1,731.3 L174.6,730.2 L176.0,728.9 L177.4,727.4 L178.8,725.8 L180.1,724.1 L181.4,722.3 L182.6,720.5 L183.8,718.7 L185.0,716.8 L186.2,715.0 L187.3,713.2 L188.4,711.4 L189.4,709.6 L190.5,707.8 L191.5,706.0 L192.4,704.2 L193.4,702.4 L194.3,700.6 L195.2,698.8 L196.1,697.0 L197.0,695.2 L197.8,693.4 L198.6,691.6 L199.4,689.7 L200.2,687.9 L200.9,686.1 L201.7,684.3 L202.4,682.5 L203.1,680.7 L203.8,678.8 L204.5,677.0 L205.1,675.2 L205.8,673.3 L206.4,671.5 L207.0,669.6 L207.7,667.8 L208.3,665.9 L208.9,664.1 L209.5,662.2 L210.1,660.3 L210.7,658.5 L211.2,656.6 L211.8,654.7 L212.4,652.8 L213.0,650.9 L213.5,649.0 L214.1,647.0 L214.7,645.1 L215.3,643.2 L215.8,641.2 L216.4,639.3 L217.0,637.3 L217.6,635.3 L218.2,633.4 L218.8,631.4 L219.5,629.4 L220.1,627.5 L220.8,625.5 L221.5,623.6 L222.2,621.6 L222.9,619.7 L223.7,617.8 L224.6,615.9 L225.4,614.1 L226.3,612.2 L227.3,610.4 L228.3,608.7 L229.4,607.0 L230.5,605.3 L231.6,603.6 L232.9,602.0 L234.2,600.5 L235.5,599.0 L237.0,597.7 L238.5,596.6 L240.0,595.9 L241.7,595.5 L243.4,595.6 L245.1,596.0 L246.7,596.8 L248.2,597.8 L249.6,599.0 L250.9,600.4 L252.0,601.9 L253.0,603.5 L253.9,605.3 L254.8,607.1 L255.6,609.0 L256.3,611.0 L256.9,613.0 L257.6,615.0 L258.2,617.1 L258.8,619.1 L259.5,621.1 L260.1,623.1 L260.7,625.1 L261.3,627.1 L261.9,629.1 L262.4,631.1 L263.0,633.0 L263.6,635.0 L264.2,637.0 L264.8,638.9 L265.3,640.9 L265.9,642.8 L266.5,644.7 L267.0,646.7 L267.6,648.6 L268.1,650.5 L268.7,652.4 L269.2,654.4 L269.8,656.3 L270.3,658.2 L270.8,660.1 L271.4,662.0 L271.9,663.9 L272.4,665.8 L273.0,667.7 L273.5,669.6 L274.0,671.5 L274.6,673.4 L275.1,675.4 L275.6,677.3 L276.2,679.2 L276.7,681.1 L277.2,683.0 L277.7,684.9 L278.2,686.8 L278.8,688.8 L279.3,690.7 L279.8,692.6 L280.3,694.5 L280.8,696.4 L281.4,698.3 L281.9,700.3 L282.4,702.2 L282.9,704.1 L283.4,706.0 L283.9,708.0 L284.5,709.9 L285.0,711.8 L285.5,713.7 L286.0,715.7 L286.5,717.6 L287.0,719.5 L287.5,721.4 L288.0,723.4 L288.5,725.3 L289.0,727.2 L289.5,729.2 L290.0,731.1 L290.5,733.0 L291.1,735.0 L291.6,736.9 L292.1,738.8 L292.6,740.8 L293.1,742.7 L293.6,744.6 L294.1,746.6 L294.6,748.5 L295.1,750.5 L295.6,752.4 L296.1,754.3 L296.6,756.3 L297.0,758.2 L297.5,760.1 L298.0,762.1 L298.5,764.0 L299.0,766.0 L299.5,767.9 L300.0,769.9 L300.5,771.8 L301.0,773.7 L301.5,775.7 L302.0,777.6 L302.5,779.6 L303.0,781.5 L303.5,783.5 L304.0,785.4 L304.5,787.3 L304.9,789.3 L305.4,791.2 L305.9,793.2 L306.4,795.1 L306.9,797.1 L307.4,799.0 L307.9,801.0 L308.4,802.9 L308.9,804.9 L309.3,806.8 L309.8,808.8 L310.3,810.7 L310.8,812.7 L311.3,814.6 L311.8,816.5 L312.3,818.5 L312.8,820.4 L313.2,822.4 L313.7,824.3 L314.2,826.3 L314.7,828.2 L315.2,830.2 L315.7,832.1 L316.2,834.1 L316.6,836.0 L317.1,838.0 L317.6,839.9 L318.1,841.9 L318.6,843.8 L319.1,845.8 L319.6,847.7 L320.0,849.7 L320.5,851.6 L321.0,853.6 L321.5,855.5 L322.0,857.5 L322.5,859.4 L323.0,861.4 L323.5,863.3 L323.9,865.2 L324.4,867.2 L324.9,869.1 L325.4,871.1 L325.9,873.0 L326.4,875.0 L326.9,876.9 L327.4,878.9 L327.9,880.8 L328.4,882.7 L328.9,884.7 L329.4,886.6 L329.9,888.6 L330.4,890.5 L331.0,892.4 L331.5,894.3 L332.0,896.2 L332.6,898.2 L333.2,900.1 L333.7,902.0 L334.3,903.9 L334.9,905.8 L335.5,907.7 L336.2,909.5 L336.8,911.4 L337.4,913.3 L338.1,915.1 L338.8,917.0 L339.5,918.9 L340.2,920.7 L340.9,922.5 L341.6,924.4 L342.4,926.2 L343.2,928.0 L344.0,929.8 L344.8,931.6 L345.6,933.4 L346.5,935.1 L347.4,936.9 L348.3,938.7 L349.2,940.4 L350.1,942.1 L351.1,943.8 L352.1,945.6 L353.1,947.3 L354.2,948.9 L355.3,950.6 L356.4,952.3 L357.5,953.9 L358.6,955.6 L359.8,957.2 L361.0,958.8 L362.3,960.4 L363.5,962.0 L364.8,963.5 L366.2,965.1 L367.5,966.6 L368.9,968.1 L370.3,969.6 L371.7,971.1 L373.2,972.5 L374.6,973.9 L376.2,975.3 L377.7,976.7 L379.2,978.0 L380.8,979.4 L382.4,980.6 L384.0,981.9 L385.6,983.1 L387.3,984.3 L389.0,985.5 L390.7,986.6 L392.4,987.7 L394.1,988.8 L395.9,989.8 L397.6,990.8 L399.4,991.7 L401.2,992.6 L403.0,993.5 L404.9,994.3 L406.7,995.1 L408.6,995.8 L410.5,996.5 L412.4,997.2 L414.3,997.8 L416.2,998.3 L418.1,998.8 L420.1,999.3 L422.0,999.7 L424.0,1000.0 L425.9,1000.4 L427.9,1000.6 L429.9,1000.8 L431.8,1001.0 L433.8,1001.1 L435.8,1001.1 L437.8,1001.1 L439.7,1001.0 L441.7,1000.9 L443.6,1000.8 L445.6,1000.5 L447.5,1000.3 L449.4,999.9 L451.3,999.5 L453.2,999.1 L455.1,998.6 L457.0,998.0 L458.8,997.4 L460.7,996.7 L462.5,996.0 L464.3,995.2 L466.0,994.4 L467.8,993.5 L469.5,992.6 L471.3,991.6 L473.0,990.6 L474.7,989.5 L476.4,988.5 L478.0,987.3 L479.7,986.2 L481.3,985.0 L482.9,983.8 L484.5,982.6 L486.1,981.3 L487.7,980.0 L489.3,978.7 L490.9,977.4 L492.4,976.0 L493.9,974.7 L495.5,973.3 L497.0,971.9 L498.5,970.5 L500.0,969.1 L501.4,967.7 L502.9,966.3 L504.4,964.9 L505.8,963.5 L507.2,962.0 L508.7,960.6 L510.1,959.2 L511.5,957.7 L512.9,956.3 L514.3,954.8 L515.7,953.3 L517.1,951.9 L518.4,950.4 L519.8,948.9 L521.1,947.4 L522.5,946.0 L523.8,944.5 L525.2,943.0 L526.5,941.5 L527.8,940.0 L529.2,938.5 L530.5,937.0 L531.8,935.5 L533.1,934.0 L534.4,932.5 L535.7,931.0 L537.0,929.4 L538.3,927.9 L539.6,926.4 L540.9,924.9 L542.2,923.4 L543.5,921.9 L544.7,920.3 L546.0,918.8 L547.3,917.3 L548.6,915.8 L549.9,914.3 L551.1,912.7 L552.4,911.2 L553.7,909.7 L555.0,908.2 L556.3,906.7 L557.6,905.2 L558.8,903.6 L560.1,902.1 L561.4,900.6 L562.7,899.1 L564.0,897.6 L565.3,896.1 L566.6,894.6 L567.9,893.1 L569.2,891.6 L570.5,890.1 L571.8,888.6 L573.2,887.1 L574.5,885.7 L575.8,884.2 L577.2,882.7 L578.5,881.2 L579.9,879.8 L581.2,878.3 L582.6,876.9 L583.9,875.4 L585.3,874.0 L586.7,872.5 L588.1,871.1 L589.5,869.7 L590.9,868.3 L592.3,866.8 L593.8,865.4 L595.2,864.0 L596.6,862.6 L598.1,861.2 L599.5,859.8 L601.0,858.5 L602.5,857.1 L603.9,855.7 L605.4,854.4 L606.9,853.0 L608.4,851.6 L609.9,850.3 L611.4,849.0 L612.9,847.6 L614.4,846.3 L616.0,844.9 L617.5,843.6 L619.0,842.3 L620.5,841.0 L622.1,839.7 L623.6,838.4 L625.2,837.1 L626.7,835.8 L628.3,834.5 L629.8,833.2 L631.4,831.9 L632.9,830.6 L634.5,829.3 L636.1,828.0 L637.6,826.8 L639.2,825.5 L640.7,824.2 L642.3,823.0 L643.9,821.7 L645.4,820.4 L647.0,819.2 L648.6,817.9 L650.1,816.7 L651.7,815.4 L653.3,814.2 L654.8,813.0 L656.4,811.7 L658.0,810.5 L659.5,809.3 L661.1,808.0 L662.7,806.8 L664.2,805.6 L665.8,804.4 L667.4,803.2 L669.0,801.9 L670.5,800.7 L672.1,799.5 L673.7,798.4 L675.3,797.2 L676.9,796.0 L678.5,794.8 L680.1,793.6 L681.7,792.5 L683.3,791.3 L684.9,790.1 L686.5,789.0 L688.1,787.8 L689.7,786.7 L691.3,785.6 L693.0,784.4 L694.6,783.3 L696.3,782.2 L697.9,781.1 L699.6,780.0 L701.2,778.9 L702.9,777.8 L704.6,776.7 L706.3,775.7 L708.0,774.6 L709.7,773.5 L711.4,772.5 L713.1,771.5 L714.8,770.4 L716.5,769.4 L718.3,768.4 L720.0,767.4 L721.8,766.4 L723.5,765.4 L725.3,764.4 L727.1,763.5 L728.9,762.5 L730.7,761.6 L732.5,760.7 L734.3,759.8 L736.1,758.9 L737.9,758.1 L739.7,757.2 L741.6,756.4 L743.4,755.6 L745.2,754.8 L747.1,754.0 L748.9,753.2 L750.8,752.5 L752.7,751.8 L754.6,751.1 L756.4,750.4 L758.3,749.7 L760.2,749.1 L762.1,748.5 L764.0,747.9 L766.0,747.3 L767.9,746.8 L769.8,746.3 L771.7,745.7 L773.7,745.3 L775.6,744.8 L777.5,744.4 L779.5,743.9 L781.4,743.5 L783.4,743.1 L785.4,742.8 L787.3,742.4 L789.3,742.1 L791.3,741.7 L793.2,741.4 L795.2,741.1 L797.2,740.8 L799.2,740.6 L801.2,740.3 L803.2,740.1 L805.1,739.8 L807.1,739.6 L809.1,739.4 L811.1,739.2 L813.1,739.0 L815.1,738.8 L817.1,738.7 L819.1,738.5 L821.1,738.3 L823.1,738.2 L825.1,738.0 L827.1,737.9 L829.1,737.7 L831.1,737.6 L833.1,737.5 L835.1,737.4 L837.1,737.3 L839.1,737.1 L841.1,737.0 L843.1,736.9 L845.1,736.8 L847.1,736.7 L849.1,736.6 L851.1,736.5 L853.1,736.3 L855.1,736.2 L857.1,736.1 L859.0,736.0 L861.0,735.9 L863.0,735.8 L865.0,735.6 L867.0,735.5 L868.9,735.4 L870.9,735.2 L872.9,735.1 L874.9,735.0 L876.8,734.8 L878.8,734.7 L880.8,734.5 L882.8,734.4 L884.7,734.2 L886.7,734.1 L888.7,733.9 L890.7,733.7 L892.7,733.6 L894.6,733.4 L896.6,733.2 L898.6,733.0 L900.6,732.8 L902.6,732.7 L904.6,732.5 L906.6,732.3 L908.6,732.0 L910.6,731.8 L912.6,731.6 L914.6,731.4 L916.6,731.2 L918.7,730.9 L920.7,730.7 L922.7,730.5 L924.7,730.2 L926.8,730.0 L928.8,729.7 L930.9,729.5 L932.9,729.2 L935.0,729.0 L937.0,728.8 L939.0,728.5 L941.1,728.3 L943.1,728.1 L945.2,728.0 L947.2,727.8 L949.3,727.7 L951.3,727.5 L953.3,727.5 L955.3,727.4 L957.4,727.3 L959.4,727.3 L961.4,727.4 L963.4,727.4 L965.4,727.5 L967.3,727.6 L969.3,727.8 L971.3,728.0 L973.2,728.3 L975.1,728.6 L977.1,728.9 L979.0,729.3 L980.9,729.8 L982.8,730.3 L984.7,730.8 L986.5,731.4 L988.4,732.0 L990.2,732.6 L992.1,733.3 L993.9,734.0 L995.7,734.8 L997.5,735.6 L999.3,736.4 L1001.1,737.3 L1002.8,738.2 L1004.6,739.1 L1006.3,740.0 L1008.1,741.0 L1009.8,742.0 L1011.5,743.0 L1013.2,744.1 L1014.9,745.1 L1016.6,746.2 L1018.3,747.3 L1020.0,748.5 L1021.6,749.6 L1023.3,750.8 L1024.9,751.9 L1026.6,753.1 L1028.2,754.3 L1029.8,755.5 L1031.4,756.7 L1033.0,757.9 L1034.6,759.2 L1036.2,760.4 L1037.7,761.7 L1039.3,762.9 L1040.9,764.2 L1042.4,765.5 L1044.0,766.7 L1045.5,768.0 L1047.0,769.3 L1048.5,770.6 L1050.1,772.0 L1051.6,773.3 L1053.1,774.6 L1054.6,775.9 L1056.1,777.3 L1057.6,778.6 L1059.0,780.0 L1060.5,781.3 L1062.0,782.7 L1063.5,784.1 L1064.9,785.5 L1066.4,786.8 L1067.9,788.2 L1069.3,789.6 L1070.8,791.0 L1072.2,792.4 L1073.7,793.8 L1075.1,795.2 L1076.5,796.6 L1078.0,798.0 L1079.4,799.4 L1080.8,800.8 L1082.3,802.2 L1083.7,803.6 L1085.1,805.1 L1086.5,806.5 L1088.0,807.9 L1089.4,809.3 L1090.8,810.7 L1092.2,812.1 L1093.7,813.6 L1095.1,815.0 L1096.5,816.4 L1097.9,817.8 L1099.4,819.2 L1100.8,820.6 L1102.2,822.1 L1103.6,823.5 L1105.1,824.9 L1106.5,826.3 L1107.9,827.7 L1109.3,829.1 L1110.8,830.5 L1112.2,831.9 L1113.7,833.3 L1115.1,834.7 L1116.5,836.1 L1118.0,837.4 L1119.4,838.8 L1120.9,840.2 L1122.4,841.6 L1123.8,842.9 L1125.3,844.3 L1126.8,845.6 L1128.2,847.0 L1129.7,848.3 L1131.2,849.7 L1132.7,851.0 L1134.2,852.3 L1135.7,853.6 L1137.2,854.9 L1138.7,856.2 L1140.2,857.5 L1141.8,858.8 L1143.3,860.1 L1144.8,861.3 L1146.4,862.6 L1147.9,863.9 L1149.5,865.1 L1151.0,866.3 L1152.6,867.6 L1154.2,868.8 L1155.8,870.0 L1157.4,871.2 L1158.9,872.4 L1160.5,873.6 L1162.1,874.8 L1163.8,876.0 L1165.4,877.1 L1167.0,878.3 L1168.6,879.5 L1170.2,880.6 L1171.9,881.8 L1173.5,882.9 L1175.1,884.0 L1176.8,885.2 L1178.4,886.3 L1180.1,887.4 L1181.8,888.5 L1183.4,889.6 L1185.1,890.7 L1186.8,891.8 L1188.5,892.9 L1190.1,894.0 L1191.8,895.0 L1193.5,896.1 L1195.2,897.2 L1196.9,898.2 L1198.6,899.3 L1200.3,900.3 L1202.0,901.4 L1203.7,902.4 L1205.5,903.4 L1207.2,904.4 L1208.9,905.5 L1210.6,906.5 L1212.4,907.5 L1214.1,908.5 L1215.8,909.5 L1217.6,910.5 L1219.3,911.5 L1221.1,912.5 L1222.8,913.4 L1224.6,914.4 L1226.3,915.4 L1228.1,916.4 L1229.8,917.3 L1231.6,918.3 L1233.4,919.2 L1235.1,920.2 L1236.9,921.1 L1238.7,922.1 L1240.4,923.0 L1242.2,924.0 L1244.0,924.9 L1245.8,925.8 L1247.6,926.8 L1249.3,927.7 L1251.1,928.6 L1252.9,929.5 L1254.7,930.4 L1256.5,931.3 L1258.3,932.2 L1260.1,933.2 L1261.9,934.1 L1263.7,935.0 L1265.5,935.8 L1267.3,936.7 L1269.1,937.6 L1270.9,938.5 L1272.7,939.4 L1274.5,940.3 L1276.3,941.2 L1278.1,942.0 L1279.9,942.9 L1281.7,943.8 L1283.5,944.6 L1285.3,945.5 L1287.1,946.4 L1288.9,947.2 L1290.7,948.1 L1292.5,948.9 L1294.4,949.8 L1296.2,950.6 L1298.0,951.5 L1299.8,952.3 L1301.6,953.1 L1303.5,954.0 L1305.3,954.8 L1307.1,955.6 L1308.9,956.5 L1310.8,957.3 L1312.6,958.1 L1314.4,958.9 L1316.2,959.7 L1318.1,960.5 L1319.9,961.4 L1321.7,962.2 L1323.6,963.0 L1325.4,963.8 L1327.2,964.5 L1329.1,965.3 L1330.9,966.1 L1332.8,966.9 L1334.6,967.7 L1336.4,968.5 L1338.3,969.3 L1340.1,970.0 L1342.0,970.8 L1343.8,971.6 L1345.7,972.3 L1347.5,973.1 L1349.4,973.9 L1351.2,974.6 L1353.1,975.4 L1354.9,976.1 L1356.8,976.9 L1358.7,977.6 L1360.5,978.3 L1362.4,979.1 L1364.2,979.8 L1366.1,980.5 L1368.0,981.3 L1369.8,982.0 L1371.7,982.7 L1373.6,983.4 L1375.4,984.2 L1377.3,984.9 L1379.2,985.6 L1381.0,986.3 L1382.9,987.0 L1384.8,987.7 L1386.7,988.4 L1388.5,989.1 L1390.4,989.8 L1392.3,990.5 L1394.2,991.1 L1396.0,991.8 L1397.9,992.5 L1399.8,993.2 L1401.7,993.8 L1403.6,994.5 L1405.5,995.2 L1407.4,995.8 L1409.2,996.5 L1411.1,997.2 L1413.0,997.8 L1414.9,998.5 L1416.8,999.1 L1418.7,999.8 L1420.6,1000.4 L1422.5,1001.0 L1424.4,1001.7 L1426.3,1002.3 L1428.2,1002.9 L1430.1,1003.6 L1432.0,1004.2 L1433.9,1004.8 L1435.8,1005.4 L1437.7,1006.0 L1439.6,1006.6 L1441.5,1007.2 L1443.4,1007.8 L1445.3,1008.4 L1447.2,1009.0 L1449.1,1009.6 L1451.1,1010.2 L1453.0,1010.8 L1454.9,1011.4 L1456.8,1012.0 L1458.7,1012.5 L1460.6,1013.1 L1462.6,1013.7 L1464.5,1014.2 L1466.4,1014.8 L1468.3,1015.4 L1470.2,1015.9 L1472.2,1016.5 L1474.1,1017.0 L1476.0,1017.6 L1477.9,1018.1 L1479.9,1018.7 L1481.8,1019.2 L1483.7,1019.7 L1485.7,1020.3 L1487.6,1020.8 L1489.5,1021.3 L1491.5,1021.8 L1493.4,1022.4 L1495.3,1022.9 L1497.3,1023.4 L1499.2,1023.9 L1501.2,1024.4 L1503.1,1024.9 L1505.0,1025.4 L1507.0,1025.9 L1508.9,1026.4 L1510.9,1026.9 L1512.8,1027.4 L1514.8,1027.8 L1516.7,1028.3 L1518.7,1028.8 L1520.6,1029.3 L1522.6,1029.7 L1524.5,1030.2 L1526.5,1030.7 L1528.4,1031.1 L1530.4,1031.6 L1532.4,1032.0 L1534.3,1032.5 L1536.3,1032.9 L1538.2,1033.4 L1540.2,1033.8 L1542.2,1034.2 L1544.1,1034.7 L1546.1,1035.1 L1548.0,1035.5 L1550.0,1035.9" fill="none" stroke="#00ff00" stroke-width="11.5" stroke-linejoin="round" stroke-linecap="butt"/>
</g>
<line x1="482.8" y1="81.8" x2="614.1" y2="81.8" stroke="#000000" stroke-width="11.5"/>
<text x="623" y="101.5" font-family="Liberation Serif, Times New Roman, serif" font-weight="bold" font-size="58.7" letter-spacing="0" fill="#000">Cur</text>
<line x1="482.8" y1="154.7" x2="614.1" y2="154.7" stroke="#0000ff" stroke-width="11.5"/>
<text x="623" y="174.5" font-family="Liberation Serif, Times New Roman, serif" font-weight="bold" font-size="58.7" letter-spacing="0" fill="#000">Zn-Adenine</text>
<line x1="482.8" y1="230.0" x2="614.1" y2="230.0" stroke="#ff0000" stroke-width="11.5"/>
<text x="623" y="247.6" font-family="Liberation Serif, Times New Roman, serif" font-weight="bold" font-size="58.7" letter-spacing="0" fill="#000">Cur<tspan font-weight="normal">@</tspan>(Zn-Adenine)</text>
<line x1="482.8" y1="303.0" x2="614.1" y2="303.0" stroke="#00ff00" stroke-width="11.5"/>
<text x="623" y="320.6" font-family="Liberation Serif, Times New Roman, serif" font-weight="bold" font-size="58.7" letter-spacing="0" fill="#000">Cur<tspan font-weight="normal">@</tspan>(Zn-Adenine)<tspan font-weight="normal">@</tspan>HA</text>
<text x="12.0" y="1200.1" font-family="Liberation Serif, Times New Roman, serif" font-weight="bold" font-size="63" letter-spacing="0.5" fill="#000">200</text>
<text x="299.8" y="1206.9" font-family="Liberation Serif, Times New Roman, serif" font-weight="bold" font-size="63" letter-spacing="0.5" fill="#000">300</text>
<text x="599.0" y="1204.5" font-family="Liberation Serif, Times New Roman, serif" font-weight="bold" font-size="63" letter-spacing="0.5" fill="#000">400</text>
<text x="897.6" y="1209.0" font-family="Liberation Serif, Times New Roman, serif" font-weight="bold" font-size="63" letter-spacing="0.5" fill="#000">500</text>
<text x="1204.7" y="1204.4" font-family="Liberation Serif, Times New Roman, serif" font-weight="bold" font-size="63" letter-spacing="0.5" fill="#000">600</text>
<text x="1494.8" y="1200.1" font-family="Liberation Serif, Times New Roman, serif" font-weight="bold" font-size="63" letter-spacing="0.5" fill="#000">700</text>
<text x="447" y="1307" font-family="Liberation Serif, Times New Roman, serif" font-weight="bold" font-size="88" letter-spacing="0.9" fill="#000">Wavenumber/nm</text>
<text x="1109" y="1266.0" font-family="Liberation Serif, Times New Roman, serif" font-weight="bold" font-size="108" fill="#000" textLength="42" lengthAdjust="spacingAndGlyphs">-</text>
<text x="1147" y="1270.6" font-family="Liberation Serif, Times New Roman, serif" font-weight="bold" font-size="88" fill="#000">1</text>
</svg>
</body></html>
